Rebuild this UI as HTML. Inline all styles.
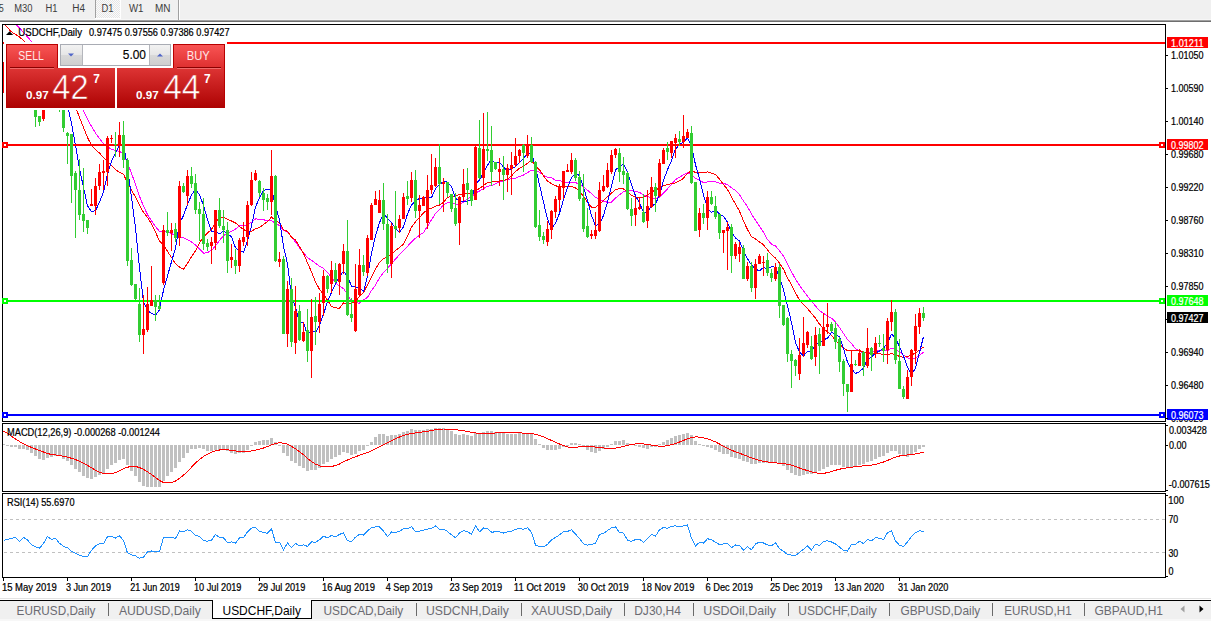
<!DOCTYPE html>
<html><head><meta charset="utf-8"><style>
*{margin:0;padding:0;box-sizing:border-box}
html,body{width:1211px;height:621px;overflow:hidden;background:#fff;font-family:"Liberation Sans",Arial,sans-serif}
.abs{position:absolute}
svg text{font-family:"Liberation Sans",Arial,sans-serif}
</style></head><body>

<svg class="abs" style="left:0;top:0" width="1211" height="621" viewBox="0 0 1211 621">
<defs><clipPath id="cmain"><rect x="3" y="25" width="1162" height="396"/></clipPath><clipPath id="cmacd"><rect x="3" y="424" width="1162" height="67"/></clipPath><clipPath id="crsi"><rect x="3" y="494" width="1162" height="83"/></clipPath><linearGradient id="ghead" x1="0" y1="0" x2="0" y2="1"><stop offset="0" stop-color="#f85454"/><stop offset="1" stop-color="#de2f2f"/></linearGradient><linearGradient id="gbox" gradientUnits="userSpaceOnUse" x1="0" y1="68" x2="0" y2="108"><stop offset="0" stop-color="#dd3434"/><stop offset="1" stop-color="#ad0202"/></linearGradient><linearGradient id="gbtn" x1="0" y1="0" x2="0" y2="1"><stop offset="0" stop-color="#f2f2f2"/><stop offset="0.5" stop-color="#e6e6e6"/><stop offset="0.5" stop-color="#d9d9d9"/><stop offset="1" stop-color="#cfcfcf"/></linearGradient></defs>
<rect x="0" y="0" width="1211" height="19" fill="#f0f0f0"/>
<rect x="0" y="19" width="1211" height="1" fill="#f6f6f6"/>
<rect x="0" y="20" width="1211" height="1" fill="#a0a0a0"/>
<rect x="0" y="21" width="1211" height="1" fill="#6e6e6e"/>
<g shape-rendering="crispEdges">
<rect x="95" y="0" width="1" height="18" fill="#a0a0a0"/>
<pattern id="chk" width="2" height="2" patternUnits="userSpaceOnUse"><rect width="2" height="2" fill="#fbfbfb"/><rect width="1" height="1" fill="#e6e6e6"/><rect x="1" y="1" width="1" height="1" fill="#e6e6e6"/></pattern>
<rect x="96" y="0" width="24" height="18" fill="url(#chk)"/>
<rect x="95" y="18" width="26" height="1" fill="#ffffff"/><rect x="120" y="0" width="1" height="18" fill="#ffffff"/>
<rect x="178" y="0" width="1" height="20" fill="#a0a0a0"/><rect x="179" y="0" width="1" height="20" fill="#ffffff"/>
</g>
<text x="-1.3" y="12" font-size="10" fill="#3c3c3c" text-anchor="start" textLength="5" lengthAdjust="spacingAndGlyphs">5</text>
<text x="14.3" y="12" font-size="10" fill="#3c3c3c" text-anchor="start" textLength="18.2" lengthAdjust="spacingAndGlyphs">M30</text>
<text x="45.5" y="12" font-size="10" fill="#3c3c3c" text-anchor="start" textLength="12" lengthAdjust="spacingAndGlyphs">H1</text>
<text x="72.2" y="12" font-size="10" fill="#3c3c3c" text-anchor="start" textLength="12.8" lengthAdjust="spacingAndGlyphs">H4</text>
<text x="101.5" y="12" font-size="10" fill="#3c3c3c" text-anchor="start" textLength="12" lengthAdjust="spacingAndGlyphs">D1</text>
<text x="129" y="12" font-size="10" fill="#3c3c3c" text-anchor="start" textLength="14.5" lengthAdjust="spacingAndGlyphs">W1</text>
<text x="155" y="12" font-size="10" fill="#3c3c3c" text-anchor="start" textLength="15.5" lengthAdjust="spacingAndGlyphs">MN</text>
<g shape-rendering="crispEdges">
<rect x="2.5" y="24.5" width="1163" height="397" fill="none" stroke="#000"/>
<rect x="2.5" y="423.5" width="1163" height="68" fill="none" stroke="#000"/>
<rect x="2.5" y="493.5" width="1163" height="84" fill="none" stroke="#000"/>
</g>
<g shape-rendering="crispEdges">
<polyline points="3.5,21.9 7.5,21.1 11.5,22.1 15.5,24.2 19.5,28.0 23.5,32.4 27.5,36.9 31.5,41.5 35.5,46.6 39.5,51.5 43.5,55.7 47.5,59.4 51.5,64.5 55.5,69.9 59.5,75.2 63.5,80.4 67.5,84.3 71.5,89.1 75.5,95.1 79.5,103.0 83.5,110.8 87.5,119.4 91.5,126.4 95.5,133.1 99.5,138.5 103.5,143.7 107.5,146.8 111.5,149.1 115.5,150.5 119.5,151.2 123.5,154.1 127.5,163.3 131.5,173.3 135.5,184.2 139.5,196.1 143.5,206.2 147.5,214.6 151.5,220.8 155.5,226.7 159.5,231.4 163.5,231.8 167.5,232.1 171.5,233.4 175.5,236.0 179.5,236.7 183.5,237.7 187.5,239.6 191.5,241.9 195.5,245.1 199.5,249.0 203.5,253.2 207.5,252.5 211.5,250.4 215.5,245.9 219.5,240.5 223.5,235.5 227.5,233.3 231.5,231.2 235.5,229.1 239.5,225.7 243.5,226.0 247.5,224.6 251.5,222.2 255.5,218.9 259.5,219.3 263.5,219.7 267.5,221.0 271.5,220.6 275.5,223.2 279.5,225.5 283.5,230.0 287.5,232.1 291.5,237.1 295.5,242.1 299.5,247.8 303.5,252.9 307.5,257.4 311.5,260.4 315.5,263.2 319.5,266.4 323.5,268.4 327.5,272.6 331.5,277.1 335.5,282.5 339.5,286.1 343.5,288.6 347.5,294.3 351.5,301.4 355.5,302.8 359.5,303.1 363.5,299.9 367.5,297.4 371.5,290.5 375.5,285.0 379.5,277.9 383.5,272.6 387.5,268.2 391.5,263.7 395.5,259.0 399.5,254.7 403.5,250.8 407.5,246.3 411.5,241.8 415.5,238.2 419.5,235.2 423.5,232.6 427.5,226.3 431.5,219.7 435.5,213.6 439.5,209.5 443.5,205.0 447.5,202.8 451.5,202.9 455.5,204.2 459.5,204.1 463.5,202.1 467.5,198.4 471.5,197.1 475.5,193.1 479.5,191.0 483.5,188.6 487.5,186.2 491.5,185.8 495.5,183.7 499.5,181.9 503.5,180.8 507.5,179.7 511.5,178.7 515.5,178.2 519.5,176.4 523.5,175.0 527.5,172.6 531.5,170.3 535.5,170.4 539.5,172.4 543.5,175.2 547.5,177.2 551.5,177.6 555.5,180.2 559.5,180.7 563.5,181.8 567.5,182.7 571.5,182.1 575.5,182.6 579.5,184.1 583.5,186.8 587.5,190.2 591.5,193.7 595.5,197.4 599.5,199.4 603.5,201.1 607.5,202.3 611.5,202.0 615.5,198.1 619.5,194.8 623.5,191.6 627.5,190.6 631.5,190.8 635.5,191.3 639.5,192.3 643.5,194.8 647.5,196.6 651.5,198.0 655.5,198.9 659.5,197.1 663.5,193.1 667.5,188.9 671.5,184.3 675.5,179.7 679.5,177.3 683.5,174.7 687.5,172.8 691.5,174.3 695.5,178.3 699.5,180.4 703.5,182.5 707.5,181.9 711.5,181.3 715.5,181.8 719.5,183.1 723.5,183.5 727.5,184.5 731.5,187.9 735.5,190.3 739.5,194.6 743.5,201.1 747.5,206.7 751.5,214.1 755.5,220.4 759.5,226.1 763.5,232.4 767.5,239.5 771.5,244.2 775.5,246.0 779.5,250.7 783.5,256.0 787.5,263.9 791.5,271.7 795.5,279.2 799.5,285.3 803.5,291.0 807.5,296.2 811.5,301.4 815.5,305.9 819.5,310.8 823.5,313.2 827.5,316.1 831.5,318.2 835.5,322.1 839.5,327.4 843.5,333.5 847.5,339.4 851.5,343.7 855.5,348.7 859.5,351.0 863.5,353.0 867.5,352.7 871.5,352.4 875.5,351.3 879.5,350.7 883.5,351.1 887.5,350.6 891.5,348.2 895.5,349.5 899.5,351.7 903.5,355.2 907.5,357.8 911.5,358.8 915.5,358.0 919.5,355.5 923.5,352.2" fill="none" stroke="#ff00ff" stroke-width="1" clip-path="url(#cmain)"/>
<polyline points="3.5,23.0 7.5,27.7 11.5,31.9 15.5,34.4 19.5,37.0 23.5,40.4 27.5,45.3 31.5,52.6 35.5,62.1 39.5,70.9 43.5,76.1 47.5,77.4 51.5,77.7 55.5,78.4 59.5,81.1 63.5,85.3 67.5,90.5 71.5,98.0 75.5,107.2 79.5,117.3 83.5,127.6 87.5,137.6 91.5,145.1 95.5,149.7 99.5,153.0 103.5,157.7 107.5,161.8 111.5,165.3 115.5,169.6 119.5,172.2 123.5,174.3 127.5,182.7 131.5,189.9 135.5,197.2 139.5,205.2 143.5,212.4 147.5,217.5 151.5,223.9 155.5,232.0 159.5,241.1 163.5,245.0 167.5,251.4 171.5,257.5 175.5,263.7 179.5,267.1 183.5,269.1 187.5,263.5 191.5,256.7 195.5,250.8 199.5,242.7 203.5,237.0 207.5,233.2 211.5,229.3 215.5,222.9 219.5,217.3 223.5,217.3 227.5,219.2 231.5,221.0 235.5,222.9 239.5,226.5 243.5,229.5 247.5,231.5 251.5,231.2 255.5,228.8 259.5,227.4 263.5,224.5 267.5,221.5 271.5,217.1 275.5,220.5 279.5,222.7 283.5,229.6 287.5,231.5 291.5,237.2 295.5,240.1 299.5,246.8 303.5,253.2 307.5,262.8 311.5,272.0 315.5,281.9 319.5,289.3 323.5,294.4 327.5,300.2 331.5,306.5 335.5,307.9 339.5,308.2 343.5,302.7 347.5,304.4 351.5,302.8 355.5,301.4 359.5,296.4 363.5,292.4 367.5,284.8 371.5,277.3 375.5,269.1 379.5,262.2 383.5,258.7 387.5,257.0 391.5,254.1 395.5,250.5 399.5,247.5 403.5,244.0 407.5,236.2 411.5,227.0 415.5,221.8 419.5,217.8 423.5,212.8 427.5,209.6 431.5,208.3 435.5,206.2 439.5,205.1 443.5,202.3 447.5,197.5 451.5,196.4 455.5,196.1 459.5,194.6 463.5,193.8 467.5,193.2 471.5,194.6 475.5,190.4 479.5,188.5 483.5,185.4 487.5,182.8 491.5,181.9 495.5,182.0 499.5,181.0 503.5,180.6 507.5,178.9 511.5,176.0 515.5,171.5 519.5,168.3 523.5,166.2 527.5,163.2 531.5,160.6 535.5,165.9 539.5,169.8 543.5,175.9 547.5,181.1 551.5,183.7 555.5,185.7 559.5,186.9 563.5,186.6 567.5,186.7 571.5,186.4 575.5,187.9 579.5,191.2 583.5,196.3 587.5,202.4 591.5,207.2 595.5,207.4 599.5,204.3 603.5,200.7 607.5,196.7 611.5,193.0 615.5,189.7 619.5,188.7 623.5,188.9 627.5,191.6 631.5,195.3 635.5,197.3 639.5,197.8 643.5,197.4 647.5,195.3 651.5,192.2 655.5,189.9 659.5,188.1 663.5,185.7 667.5,184.5 671.5,183.6 675.5,182.9 679.5,180.9 683.5,178.3 687.5,173.1 691.5,170.9 695.5,172.4 699.5,172.8 703.5,172.6 707.5,171.9 711.5,173.1 715.5,174.5 719.5,179.1 723.5,184.5 727.5,189.5 731.5,197.1 735.5,204.2 739.5,211.2 743.5,220.8 747.5,229.7 751.5,236.7 755.5,239.0 759.5,241.9 763.5,244.8 767.5,249.9 771.5,254.8 775.5,258.1 779.5,263.0 783.5,269.3 787.5,277.8 791.5,284.8 795.5,292.9 799.5,300.1 803.5,304.3 807.5,308.7 811.5,313.4 815.5,318.1 819.5,324.1 823.5,328.5 827.5,331.9 831.5,335.4 835.5,340.4 839.5,344.1 843.5,348.1 847.5,350.6 851.5,350.8 855.5,350.7 859.5,350.6 863.5,352.1 867.5,353.2 871.5,352.9 875.5,353.4 879.5,353.3 883.5,354.9 887.5,354.7 891.5,353.5 895.5,354.7 899.5,356.5 903.5,357.4 907.5,356.4 911.5,355.4 915.5,352.8 919.5,350.2 923.5,347.0" fill="none" stroke="#ff0000" stroke-width="1" clip-path="url(#cmain)"/>
<polyline points="3.5,66.0 7.5,65.8 11.5,62.5 15.5,58.9 19.5,60.2 23.5,60.5 27.5,64.6 31.5,70.3 35.5,83.2 39.5,94.9 43.5,101.8 47.5,101.7 51.5,100.3 55.5,93.1 59.5,88.1 63.5,93.5 67.5,105.3 71.5,123.4 75.5,145.3 79.5,168.9 83.5,187.4 87.5,205.9 91.5,211.6 95.5,210.7 99.5,202.1 103.5,192.2 107.5,174.2 111.5,161.0 115.5,152.9 119.5,145.5 123.5,143.4 127.5,167.9 131.5,197.2 135.5,228.0 139.5,268.0 143.5,301.7 147.5,310.4 151.5,313.4 155.5,315.0 159.5,309.9 163.5,290.1 167.5,275.9 171.5,261.8 175.5,248.0 179.5,223.3 183.5,215.6 187.5,204.2 191.5,195.0 195.5,189.4 199.5,194.9 203.5,205.3 207.5,219.6 211.5,231.3 215.5,231.3 219.5,233.8 223.5,231.1 227.5,233.7 231.5,236.7 235.5,247.9 239.5,250.7 243.5,252.1 247.5,241.1 251.5,225.7 255.5,207.1 259.5,197.7 263.5,190.2 267.5,189.6 271.5,188.8 275.5,206.4 279.5,219.6 283.5,246.5 287.5,263.8 291.5,297.0 295.5,306.9 299.5,323.1 303.5,322.7 307.5,335.1 311.5,330.1 315.5,332.5 319.5,325.2 323.5,314.1 327.5,301.8 331.5,292.4 335.5,284.4 339.5,276.3 343.5,271.2 347.5,276.4 351.5,286.0 355.5,287.3 359.5,287.6 363.5,291.7 367.5,276.3 371.5,253.6 375.5,235.7 379.5,222.7 383.5,213.2 387.5,218.4 391.5,222.6 395.5,228.5 399.5,232.4 403.5,226.9 407.5,213.9 411.5,204.8 415.5,201.2 419.5,198.3 423.5,198.3 427.5,196.6 431.5,197.6 435.5,188.8 439.5,184.6 443.5,181.6 447.5,182.1 451.5,186.8 455.5,198.3 459.5,201.0 463.5,201.5 467.5,200.9 471.5,199.4 475.5,184.0 479.5,180.1 483.5,173.0 487.5,165.3 491.5,159.5 495.5,163.8 499.5,162.1 503.5,167.2 507.5,170.6 511.5,169.2 515.5,166.5 519.5,162.7 523.5,158.3 527.5,153.7 531.5,153.0 535.5,167.3 539.5,184.8 543.5,202.2 547.5,219.1 551.5,228.8 555.5,223.2 559.5,213.3 563.5,199.5 567.5,187.5 571.5,177.4 575.5,173.3 579.5,175.6 583.5,187.1 587.5,200.6 591.5,215.4 595.5,225.7 599.5,223.9 603.5,215.5 607.5,202.2 611.5,186.2 615.5,170.0 619.5,166.5 623.5,164.1 627.5,172.0 631.5,184.3 635.5,196.0 639.5,202.9 643.5,212.4 647.5,211.8 651.5,206.1 655.5,203.8 659.5,194.9 663.5,180.5 667.5,169.7 671.5,160.5 675.5,148.9 679.5,144.7 683.5,142.0 687.5,137.9 691.5,146.2 695.5,164.7 699.5,178.8 703.5,195.2 707.5,208.2 711.5,212.5 715.5,209.9 719.5,213.9 723.5,216.3 727.5,222.3 731.5,232.5 735.5,238.0 739.5,240.9 743.5,250.8 747.5,258.6 751.5,265.1 755.5,269.1 759.5,270.9 763.5,267.3 767.5,268.8 771.5,266.8 775.5,267.2 779.5,277.2 783.5,289.8 787.5,306.0 791.5,322.6 795.5,342.4 799.5,352.2 803.5,355.9 807.5,351.4 811.5,351.0 815.5,344.8 819.5,343.0 823.5,339.8 827.5,338.2 831.5,332.6 835.5,334.0 839.5,337.1 843.5,348.6 847.5,362.1 851.5,368.9 855.5,373.4 859.5,371.7 863.5,367.9 867.5,359.2 871.5,357.3 875.5,352.9 879.5,351.1 883.5,348.2 887.5,342.8 891.5,334.2 895.5,337.7 899.5,346.8 903.5,356.1 907.5,367.3 911.5,374.8 915.5,367.9 919.5,352.6 923.5,336.7" fill="none" stroke="#0000ff" stroke-width="1" clip-path="url(#cmain)"/>
</g>
<g shape-rendering="crispEdges">
<rect x="3" y="42" width="1162" height="2" fill="#ff0000"/>
<rect x="1167" y="37" width="41" height="11" fill="#ff0000"/>
</g>
<text x="1171" y="46.6" font-size="10.3" fill="#fff" text-anchor="start" textLength="32.5" lengthAdjust="spacingAndGlyphs" stroke="#fff" stroke-width="0.22">1.01211</text>
<g shape-rendering="crispEdges">
<rect x="8" y="144" width="1151" height="2" fill="#ff0000"/>
<rect x="2" y="142" width="6" height="6" fill="#ff0000"/><rect x="4" y="144" width="2" height="2" fill="#fff"/>
<rect x="1159" y="142" width="6" height="6" fill="#ff0000"/><rect x="1161" y="144" width="2" height="2" fill="#fff"/>
<rect x="1167" y="139" width="41" height="11" fill="#ff0000"/>
</g>
<text x="1171" y="148.6" font-size="10.3" fill="#fff" text-anchor="start" textLength="32.5" lengthAdjust="spacingAndGlyphs" stroke="#fff" stroke-width="0.22">0.99802</text>
<g shape-rendering="crispEdges">
<rect x="8" y="300" width="1151" height="2" fill="#00ff00"/>
<rect x="2" y="298" width="6" height="6" fill="#00ff00"/><rect x="4" y="300" width="2" height="2" fill="#fff"/>
<rect x="1159" y="298" width="6" height="6" fill="#00ff00"/><rect x="1161" y="300" width="2" height="2" fill="#fff"/>
<rect x="1167" y="295" width="41" height="11" fill="#00ff00"/>
</g>
<text x="1171" y="304.6" font-size="10.3" fill="#fff" text-anchor="start" textLength="32.5" lengthAdjust="spacingAndGlyphs" stroke="#fff" stroke-width="0.22">0.97648</text>
<g shape-rendering="crispEdges">
<rect x="8" y="414" width="1151" height="2" fill="#0000ff"/>
<rect x="2" y="412" width="6" height="6" fill="#0000ff"/><rect x="4" y="414" width="2" height="2" fill="#fff"/>
<rect x="1159" y="412" width="6" height="6" fill="#0000ff"/><rect x="1161" y="414" width="2" height="2" fill="#fff"/>
<rect x="1167" y="409" width="41" height="11" fill="#0000ff"/>
</g>
<text x="1171" y="418.6" font-size="10.3" fill="#fff" text-anchor="start" textLength="32.5" lengthAdjust="spacingAndGlyphs" stroke="#fff" stroke-width="0.22">0.96073</text>
<g shape-rendering="crispEdges" clip-path="url(#cmain)">
<rect x="3" y="62" width="1" height="31" fill="#ff0000"/>
<rect x="2" y="65" width="3" height="25" fill="#ff0000"/>
<rect x="7" y="60" width="1" height="25" fill="#ff0000"/>
<rect x="6" y="62" width="3" height="18" fill="#ff0000"/>
<rect x="11" y="55" width="1" height="25" fill="#32cd32"/>
<rect x="10" y="60" width="3" height="15" fill="#32cd32"/>
<rect x="15" y="55" width="1" height="20" fill="#ff0000"/>
<rect x="14" y="58" width="3" height="12" fill="#ff0000"/>
<rect x="19" y="60" width="1" height="25" fill="#32cd32"/>
<rect x="18" y="65" width="3" height="15" fill="#32cd32"/>
<rect x="23" y="70" width="1" height="25" fill="#32cd32"/>
<rect x="22" y="75" width="3" height="15" fill="#32cd32"/>
<rect x="27" y="75" width="1" height="25" fill="#ff0000"/>
<rect x="26" y="80" width="3" height="15" fill="#ff0000"/>
<rect x="31" y="80" width="1" height="20" fill="#32cd32"/>
<rect x="30" y="85" width="3" height="10" fill="#32cd32"/>
<rect x="35" y="100" width="1" height="27" fill="#32cd32"/>
<rect x="34" y="100" width="3" height="17" fill="#32cd32"/>
<rect x="39" y="116" width="1" height="10" fill="#32cd32"/>
<rect x="38" y="116" width="3" height="6" fill="#32cd32"/>
<rect x="43" y="100" width="1" height="21" fill="#ff0000"/>
<rect x="42" y="100" width="3" height="19" fill="#ff0000"/>
<rect x="47" y="95" width="1" height="11" fill="#32cd32"/>
<rect x="46" y="98" width="3" height="6" fill="#32cd32"/>
<rect x="51" y="92" width="1" height="13" fill="#ff0000"/>
<rect x="50" y="95" width="3" height="7" fill="#ff0000"/>
<rect x="55" y="95" width="1" height="13" fill="#32cd32"/>
<rect x="54" y="98" width="3" height="8" fill="#32cd32"/>
<rect x="59" y="96" width="1" height="16" fill="#32cd32"/>
<rect x="58" y="100" width="3" height="8" fill="#32cd32"/>
<rect x="63" y="100" width="1" height="32" fill="#32cd32"/>
<rect x="62" y="104" width="3" height="24" fill="#32cd32"/>
<rect x="67" y="132" width="1" height="32" fill="#32cd32"/>
<rect x="66" y="133" width="3" height="3" fill="#32cd32"/>
<rect x="71" y="134" width="1" height="69" fill="#32cd32"/>
<rect x="70" y="134" width="3" height="42" fill="#32cd32"/>
<rect x="75" y="171" width="1" height="67" fill="#32cd32"/>
<rect x="74" y="173" width="3" height="17" fill="#32cd32"/>
<rect x="79" y="159" width="1" height="61" fill="#32cd32"/>
<rect x="78" y="190" width="3" height="25" fill="#32cd32"/>
<rect x="83" y="168" width="1" height="64" fill="#32cd32"/>
<rect x="82" y="214" width="3" height="7" fill="#32cd32"/>
<rect x="87" y="220" width="1" height="14" fill="#32cd32"/>
<rect x="86" y="220" width="3" height="8" fill="#32cd32"/>
<rect x="91" y="189" width="1" height="17" fill="#ff0000"/>
<rect x="90" y="204" width="3" height="2" fill="#ff0000"/>
<rect x="95" y="178" width="1" height="37" fill="#ff0000"/>
<rect x="94" y="186" width="3" height="20" fill="#ff0000"/>
<rect x="99" y="164" width="1" height="26" fill="#ff0000"/>
<rect x="98" y="172" width="3" height="14" fill="#ff0000"/>
<rect x="103" y="160" width="1" height="30" fill="#ff0000"/>
<rect x="102" y="171" width="3" height="2" fill="#ff0000"/>
<rect x="107" y="136" width="1" height="50" fill="#ff0000"/>
<rect x="106" y="138" width="3" height="34" fill="#ff0000"/>
<rect x="111" y="135" width="1" height="8" fill="#ff0000"/>
<rect x="110" y="138" width="3" height="1" fill="#ff0000"/>
<rect x="115" y="132" width="1" height="25" fill="#32cd32"/>
<rect x="114" y="144" width="3" height="1" fill="#32cd32"/>
<rect x="119" y="122" width="1" height="35" fill="#ff0000"/>
<rect x="118" y="135" width="3" height="10" fill="#ff0000"/>
<rect x="123" y="121" width="1" height="47" fill="#32cd32"/>
<rect x="122" y="135" width="3" height="25" fill="#32cd32"/>
<rect x="127" y="158" width="1" height="108" fill="#32cd32"/>
<rect x="126" y="160" width="3" height="101" fill="#32cd32"/>
<rect x="131" y="248" width="1" height="38" fill="#32cd32"/>
<rect x="130" y="260" width="3" height="25" fill="#32cd32"/>
<rect x="135" y="284" width="1" height="16" fill="#32cd32"/>
<rect x="134" y="284" width="3" height="15" fill="#32cd32"/>
<rect x="139" y="288" width="1" height="54" fill="#32cd32"/>
<rect x="138" y="304" width="3" height="31" fill="#32cd32"/>
<rect x="143" y="295" width="1" height="59" fill="#ff0000"/>
<rect x="142" y="329" width="3" height="6" fill="#ff0000"/>
<rect x="147" y="287" width="1" height="45" fill="#ff0000"/>
<rect x="146" y="304" width="3" height="26" fill="#ff0000"/>
<rect x="151" y="266" width="1" height="40" fill="#ff0000"/>
<rect x="150" y="300" width="3" height="6" fill="#ff0000"/>
<rect x="155" y="295" width="1" height="26" fill="#32cd32"/>
<rect x="154" y="300" width="3" height="7" fill="#32cd32"/>
<rect x="159" y="295" width="1" height="15" fill="#32cd32"/>
<rect x="158" y="306" width="3" height="3" fill="#32cd32"/>
<rect x="163" y="225" width="1" height="60" fill="#ff0000"/>
<rect x="162" y="230" width="3" height="53" fill="#ff0000"/>
<rect x="167" y="212" width="1" height="24" fill="#32cd32"/>
<rect x="166" y="230" width="3" height="3" fill="#32cd32"/>
<rect x="171" y="223" width="1" height="28" fill="#ff0000"/>
<rect x="170" y="230" width="3" height="3" fill="#ff0000"/>
<rect x="175" y="223" width="1" height="19" fill="#32cd32"/>
<rect x="174" y="229" width="3" height="9" fill="#32cd32"/>
<rect x="179" y="181" width="1" height="65" fill="#ff0000"/>
<rect x="178" y="186" width="3" height="52" fill="#ff0000"/>
<rect x="183" y="183" width="1" height="10" fill="#32cd32"/>
<rect x="182" y="186" width="3" height="6" fill="#32cd32"/>
<rect x="187" y="170" width="1" height="35" fill="#ff0000"/>
<rect x="186" y="176" width="3" height="20" fill="#ff0000"/>
<rect x="191" y="167" width="1" height="21" fill="#32cd32"/>
<rect x="190" y="176" width="3" height="8" fill="#32cd32"/>
<rect x="195" y="174" width="1" height="40" fill="#32cd32"/>
<rect x="194" y="183" width="3" height="27" fill="#32cd32"/>
<rect x="199" y="202" width="1" height="39" fill="#32cd32"/>
<rect x="198" y="209" width="3" height="5" fill="#32cd32"/>
<rect x="203" y="198" width="1" height="52" fill="#32cd32"/>
<rect x="202" y="214" width="3" height="30" fill="#32cd32"/>
<rect x="207" y="239" width="1" height="12" fill="#32cd32"/>
<rect x="206" y="243" width="3" height="4" fill="#32cd32"/>
<rect x="211" y="237" width="1" height="27" fill="#ff0000"/>
<rect x="210" y="242" width="3" height="4" fill="#ff0000"/>
<rect x="215" y="210" width="1" height="40" fill="#ff0000"/>
<rect x="214" y="210" width="3" height="33" fill="#ff0000"/>
<rect x="219" y="198" width="1" height="30" fill="#32cd32"/>
<rect x="218" y="210" width="3" height="16" fill="#32cd32"/>
<rect x="223" y="210" width="1" height="33" fill="#32cd32"/>
<rect x="222" y="226" width="3" height="4" fill="#32cd32"/>
<rect x="227" y="222" width="1" height="51" fill="#32cd32"/>
<rect x="226" y="230" width="3" height="31" fill="#32cd32"/>
<rect x="231" y="244" width="1" height="24" fill="#ff0000"/>
<rect x="230" y="257" width="3" height="3" fill="#ff0000"/>
<rect x="235" y="249" width="1" height="25" fill="#32cd32"/>
<rect x="234" y="260" width="3" height="6" fill="#32cd32"/>
<rect x="239" y="238" width="1" height="34" fill="#ff0000"/>
<rect x="238" y="240" width="3" height="26" fill="#ff0000"/>
<rect x="243" y="222" width="1" height="24" fill="#ff0000"/>
<rect x="242" y="237" width="3" height="5" fill="#ff0000"/>
<rect x="247" y="201" width="1" height="45" fill="#ff0000"/>
<rect x="246" y="205" width="3" height="32" fill="#ff0000"/>
<rect x="251" y="172" width="1" height="34" fill="#ff0000"/>
<rect x="250" y="180" width="3" height="25" fill="#ff0000"/>
<rect x="255" y="170" width="1" height="11" fill="#ff0000"/>
<rect x="254" y="173" width="3" height="7" fill="#ff0000"/>
<rect x="259" y="180" width="1" height="17" fill="#32cd32"/>
<rect x="258" y="181" width="3" height="12" fill="#32cd32"/>
<rect x="263" y="188" width="1" height="23" fill="#32cd32"/>
<rect x="262" y="193" width="3" height="7" fill="#32cd32"/>
<rect x="267" y="194" width="1" height="16" fill="#32cd32"/>
<rect x="266" y="198" width="3" height="4" fill="#32cd32"/>
<rect x="271" y="150" width="1" height="65" fill="#ff0000"/>
<rect x="270" y="176" width="3" height="26" fill="#ff0000"/>
<rect x="275" y="175" width="1" height="87" fill="#32cd32"/>
<rect x="274" y="176" width="3" height="85" fill="#32cd32"/>
<rect x="279" y="252" width="1" height="15" fill="#ff0000"/>
<rect x="278" y="259" width="3" height="3" fill="#ff0000"/>
<rect x="283" y="256" width="1" height="78" fill="#32cd32"/>
<rect x="282" y="259" width="3" height="75" fill="#32cd32"/>
<rect x="287" y="281" width="1" height="66" fill="#ff0000"/>
<rect x="286" y="289" width="3" height="45" fill="#ff0000"/>
<rect x="291" y="278" width="1" height="69" fill="#32cd32"/>
<rect x="290" y="289" width="3" height="53" fill="#32cd32"/>
<rect x="295" y="286" width="1" height="68" fill="#ff0000"/>
<rect x="294" y="311" width="3" height="32" fill="#ff0000"/>
<rect x="299" y="305" width="1" height="36" fill="#32cd32"/>
<rect x="298" y="311" width="3" height="29" fill="#32cd32"/>
<rect x="303" y="322" width="1" height="20" fill="#ff0000"/>
<rect x="302" y="332" width="3" height="9" fill="#ff0000"/>
<rect x="307" y="309" width="1" height="53" fill="#32cd32"/>
<rect x="306" y="330" width="3" height="21" fill="#32cd32"/>
<rect x="311" y="299" width="1" height="79" fill="#ff0000"/>
<rect x="310" y="317" width="3" height="34" fill="#ff0000"/>
<rect x="315" y="297" width="1" height="48" fill="#32cd32"/>
<rect x="314" y="316" width="3" height="6" fill="#32cd32"/>
<rect x="319" y="293" width="1" height="40" fill="#ff0000"/>
<rect x="318" y="304" width="3" height="18" fill="#ff0000"/>
<rect x="323" y="270" width="1" height="46" fill="#ff0000"/>
<rect x="322" y="276" width="3" height="27" fill="#ff0000"/>
<rect x="327" y="275" width="1" height="18" fill="#32cd32"/>
<rect x="326" y="276" width="3" height="13" fill="#32cd32"/>
<rect x="331" y="261" width="1" height="32" fill="#ff0000"/>
<rect x="330" y="270" width="3" height="14" fill="#ff0000"/>
<rect x="335" y="263" width="1" height="20" fill="#32cd32"/>
<rect x="334" y="270" width="3" height="12" fill="#32cd32"/>
<rect x="339" y="263" width="1" height="32" fill="#ff0000"/>
<rect x="338" y="264" width="3" height="18" fill="#ff0000"/>
<rect x="343" y="244" width="1" height="30" fill="#ff0000"/>
<rect x="342" y="251" width="3" height="13" fill="#ff0000"/>
<rect x="347" y="220" width="1" height="96" fill="#32cd32"/>
<rect x="346" y="251" width="3" height="64" fill="#32cd32"/>
<rect x="351" y="298" width="1" height="24" fill="#32cd32"/>
<rect x="350" y="314" width="3" height="4" fill="#32cd32"/>
<rect x="355" y="264" width="1" height="68" fill="#ff0000"/>
<rect x="354" y="289" width="3" height="42" fill="#ff0000"/>
<rect x="359" y="249" width="1" height="47" fill="#ff0000"/>
<rect x="358" y="265" width="3" height="30" fill="#ff0000"/>
<rect x="363" y="255" width="1" height="21" fill="#32cd32"/>
<rect x="362" y="265" width="3" height="7" fill="#32cd32"/>
<rect x="367" y="235" width="1" height="41" fill="#ff0000"/>
<rect x="366" y="238" width="3" height="35" fill="#ff0000"/>
<rect x="371" y="203" width="1" height="37" fill="#ff0000"/>
<rect x="370" y="205" width="3" height="35" fill="#ff0000"/>
<rect x="375" y="191" width="1" height="14" fill="#ff0000"/>
<rect x="374" y="199" width="3" height="6" fill="#ff0000"/>
<rect x="379" y="190" width="1" height="23" fill="#ff0000"/>
<rect x="378" y="200" width="3" height="13" fill="#ff0000"/>
<rect x="383" y="183" width="1" height="47" fill="#32cd32"/>
<rect x="382" y="200" width="3" height="24" fill="#32cd32"/>
<rect x="387" y="214" width="1" height="59" fill="#32cd32"/>
<rect x="386" y="224" width="3" height="40" fill="#32cd32"/>
<rect x="391" y="223" width="1" height="55" fill="#ff0000"/>
<rect x="390" y="226" width="3" height="38" fill="#ff0000"/>
<rect x="395" y="191" width="1" height="47" fill="#32cd32"/>
<rect x="394" y="226" width="3" height="3" fill="#32cd32"/>
<rect x="399" y="215" width="1" height="18" fill="#ff0000"/>
<rect x="398" y="219" width="3" height="9" fill="#ff0000"/>
<rect x="403" y="193" width="1" height="26" fill="#ff0000"/>
<rect x="402" y="197" width="3" height="22" fill="#ff0000"/>
<rect x="407" y="181" width="1" height="24" fill="#32cd32"/>
<rect x="406" y="196" width="3" height="3" fill="#32cd32"/>
<rect x="411" y="172" width="1" height="30" fill="#ff0000"/>
<rect x="410" y="180" width="3" height="18" fill="#ff0000"/>
<rect x="415" y="170" width="1" height="48" fill="#32cd32"/>
<rect x="414" y="180" width="3" height="31" fill="#32cd32"/>
<rect x="419" y="195" width="1" height="43" fill="#ff0000"/>
<rect x="418" y="205" width="3" height="6" fill="#ff0000"/>
<rect x="423" y="196" width="1" height="10" fill="#ff0000"/>
<rect x="422" y="197" width="3" height="9" fill="#ff0000"/>
<rect x="427" y="175" width="1" height="54" fill="#ff0000"/>
<rect x="426" y="190" width="3" height="33" fill="#ff0000"/>
<rect x="431" y="154" width="1" height="40" fill="#ff0000"/>
<rect x="430" y="185" width="3" height="5" fill="#ff0000"/>
<rect x="435" y="158" width="1" height="29" fill="#ff0000"/>
<rect x="434" y="167" width="3" height="19" fill="#ff0000"/>
<rect x="439" y="144" width="1" height="60" fill="#32cd32"/>
<rect x="438" y="167" width="3" height="17" fill="#32cd32"/>
<rect x="443" y="178" width="1" height="34" fill="#ff0000"/>
<rect x="442" y="182" width="3" height="2" fill="#ff0000"/>
<rect x="447" y="182" width="1" height="15" fill="#32cd32"/>
<rect x="446" y="182" width="3" height="11" fill="#32cd32"/>
<rect x="451" y="194" width="1" height="18" fill="#32cd32"/>
<rect x="450" y="194" width="3" height="15" fill="#32cd32"/>
<rect x="455" y="193" width="1" height="33" fill="#32cd32"/>
<rect x="454" y="208" width="3" height="16" fill="#32cd32"/>
<rect x="459" y="196" width="1" height="49" fill="#ff0000"/>
<rect x="458" y="197" width="3" height="26" fill="#ff0000"/>
<rect x="463" y="169" width="1" height="32" fill="#ff0000"/>
<rect x="462" y="184" width="3" height="13" fill="#ff0000"/>
<rect x="467" y="168" width="1" height="37" fill="#32cd32"/>
<rect x="466" y="183" width="3" height="7" fill="#32cd32"/>
<rect x="471" y="189" width="1" height="17" fill="#32cd32"/>
<rect x="470" y="190" width="3" height="11" fill="#32cd32"/>
<rect x="475" y="146" width="1" height="54" fill="#ff0000"/>
<rect x="474" y="147" width="3" height="53" fill="#ff0000"/>
<rect x="479" y="120" width="1" height="59" fill="#32cd32"/>
<rect x="478" y="148" width="3" height="30" fill="#32cd32"/>
<rect x="483" y="113" width="1" height="77" fill="#ff0000"/>
<rect x="482" y="149" width="3" height="29" fill="#ff0000"/>
<rect x="487" y="112" width="1" height="49" fill="#32cd32"/>
<rect x="486" y="149" width="3" height="2" fill="#32cd32"/>
<rect x="491" y="126" width="1" height="60" fill="#32cd32"/>
<rect x="490" y="150" width="3" height="22" fill="#32cd32"/>
<rect x="495" y="162" width="1" height="8" fill="#32cd32"/>
<rect x="494" y="162" width="3" height="7" fill="#32cd32"/>
<rect x="499" y="158" width="1" height="28" fill="#ff0000"/>
<rect x="498" y="169" width="3" height="3" fill="#ff0000"/>
<rect x="503" y="156" width="1" height="44" fill="#32cd32"/>
<rect x="502" y="169" width="3" height="6" fill="#32cd32"/>
<rect x="507" y="164" width="1" height="28" fill="#ff0000"/>
<rect x="506" y="168" width="3" height="7" fill="#ff0000"/>
<rect x="511" y="152" width="1" height="43" fill="#ff0000"/>
<rect x="510" y="165" width="3" height="4" fill="#ff0000"/>
<rect x="515" y="138" width="1" height="29" fill="#ff0000"/>
<rect x="514" y="156" width="3" height="9" fill="#ff0000"/>
<rect x="519" y="149" width="1" height="14" fill="#ff0000"/>
<rect x="518" y="150" width="3" height="6" fill="#ff0000"/>
<rect x="523" y="144" width="1" height="28" fill="#32cd32"/>
<rect x="522" y="145" width="3" height="8" fill="#32cd32"/>
<rect x="527" y="135" width="1" height="23" fill="#ff0000"/>
<rect x="526" y="145" width="3" height="11" fill="#ff0000"/>
<rect x="531" y="137" width="1" height="26" fill="#32cd32"/>
<rect x="530" y="145" width="3" height="17" fill="#32cd32"/>
<rect x="535" y="161" width="1" height="67" fill="#32cd32"/>
<rect x="534" y="162" width="3" height="65" fill="#32cd32"/>
<rect x="539" y="210" width="1" height="31" fill="#32cd32"/>
<rect x="538" y="225" width="3" height="12" fill="#32cd32"/>
<rect x="543" y="232" width="1" height="12" fill="#32cd32"/>
<rect x="542" y="236" width="3" height="4" fill="#32cd32"/>
<rect x="547" y="221" width="1" height="25" fill="#ff0000"/>
<rect x="546" y="229" width="3" height="13" fill="#ff0000"/>
<rect x="551" y="210" width="1" height="29" fill="#ff0000"/>
<rect x="550" y="211" width="3" height="19" fill="#ff0000"/>
<rect x="555" y="196" width="1" height="22" fill="#ff0000"/>
<rect x="554" y="199" width="3" height="13" fill="#ff0000"/>
<rect x="559" y="184" width="1" height="27" fill="#ff0000"/>
<rect x="558" y="187" width="3" height="13" fill="#ff0000"/>
<rect x="563" y="171" width="1" height="28" fill="#ff0000"/>
<rect x="562" y="171" width="3" height="17" fill="#ff0000"/>
<rect x="567" y="164" width="1" height="8" fill="#ff0000"/>
<rect x="566" y="170" width="3" height="2" fill="#ff0000"/>
<rect x="571" y="153" width="1" height="21" fill="#ff0000"/>
<rect x="570" y="160" width="3" height="12" fill="#ff0000"/>
<rect x="575" y="158" width="1" height="23" fill="#32cd32"/>
<rect x="574" y="160" width="3" height="18" fill="#32cd32"/>
<rect x="579" y="171" width="1" height="30" fill="#32cd32"/>
<rect x="578" y="177" width="3" height="22" fill="#32cd32"/>
<rect x="583" y="174" width="1" height="58" fill="#32cd32"/>
<rect x="582" y="198" width="3" height="31" fill="#32cd32"/>
<rect x="587" y="208" width="1" height="30" fill="#32cd32"/>
<rect x="586" y="226" width="3" height="11" fill="#32cd32"/>
<rect x="591" y="230" width="1" height="9" fill="#ff0000"/>
<rect x="590" y="234" width="3" height="2" fill="#ff0000"/>
<rect x="595" y="212" width="1" height="27" fill="#ff0000"/>
<rect x="594" y="230" width="3" height="6" fill="#ff0000"/>
<rect x="599" y="182" width="1" height="50" fill="#ff0000"/>
<rect x="598" y="190" width="3" height="41" fill="#ff0000"/>
<rect x="603" y="175" width="1" height="17" fill="#ff0000"/>
<rect x="602" y="186" width="3" height="5" fill="#ff0000"/>
<rect x="607" y="163" width="1" height="25" fill="#ff0000"/>
<rect x="606" y="170" width="3" height="17" fill="#ff0000"/>
<rect x="611" y="150" width="1" height="24" fill="#ff0000"/>
<rect x="610" y="155" width="3" height="17" fill="#ff0000"/>
<rect x="615" y="148" width="1" height="10" fill="#ff0000"/>
<rect x="614" y="149" width="3" height="6" fill="#ff0000"/>
<rect x="619" y="148" width="1" height="34" fill="#32cd32"/>
<rect x="618" y="153" width="3" height="19" fill="#32cd32"/>
<rect x="623" y="157" width="1" height="27" fill="#32cd32"/>
<rect x="622" y="171" width="3" height="4" fill="#32cd32"/>
<rect x="627" y="172" width="1" height="38" fill="#32cd32"/>
<rect x="626" y="173" width="3" height="36" fill="#32cd32"/>
<rect x="631" y="198" width="1" height="28" fill="#32cd32"/>
<rect x="630" y="209" width="3" height="7" fill="#32cd32"/>
<rect x="635" y="197" width="1" height="29" fill="#ff0000"/>
<rect x="634" y="208" width="3" height="7" fill="#ff0000"/>
<rect x="639" y="198" width="1" height="12" fill="#ff0000"/>
<rect x="638" y="207" width="3" height="2" fill="#ff0000"/>
<rect x="643" y="194" width="1" height="29" fill="#32cd32"/>
<rect x="642" y="212" width="3" height="10" fill="#32cd32"/>
<rect x="647" y="190" width="1" height="38" fill="#ff0000"/>
<rect x="646" y="206" width="3" height="15" fill="#ff0000"/>
<rect x="651" y="177" width="1" height="31" fill="#ff0000"/>
<rect x="650" y="187" width="3" height="20" fill="#ff0000"/>
<rect x="655" y="183" width="1" height="29" fill="#32cd32"/>
<rect x="654" y="187" width="3" height="9" fill="#32cd32"/>
<rect x="659" y="159" width="1" height="38" fill="#ff0000"/>
<rect x="658" y="163" width="3" height="33" fill="#ff0000"/>
<rect x="663" y="148" width="1" height="16" fill="#ff0000"/>
<rect x="662" y="150" width="3" height="14" fill="#ff0000"/>
<rect x="667" y="142" width="1" height="18" fill="#32cd32"/>
<rect x="666" y="148" width="3" height="4" fill="#32cd32"/>
<rect x="671" y="141" width="1" height="17" fill="#ff0000"/>
<rect x="670" y="141" width="3" height="12" fill="#ff0000"/>
<rect x="675" y="134" width="1" height="24" fill="#ff0000"/>
<rect x="674" y="138" width="3" height="5" fill="#ff0000"/>
<rect x="679" y="131" width="1" height="15" fill="#32cd32"/>
<rect x="678" y="139" width="3" height="3" fill="#32cd32"/>
<rect x="683" y="115" width="1" height="33" fill="#ff0000"/>
<rect x="682" y="136" width="3" height="6" fill="#ff0000"/>
<rect x="687" y="129" width="1" height="9" fill="#ff0000"/>
<rect x="686" y="132" width="3" height="6" fill="#ff0000"/>
<rect x="691" y="126" width="1" height="58" fill="#32cd32"/>
<rect x="690" y="133" width="3" height="50" fill="#32cd32"/>
<rect x="695" y="182" width="1" height="49" fill="#32cd32"/>
<rect x="694" y="182" width="3" height="49" fill="#32cd32"/>
<rect x="699" y="208" width="1" height="29" fill="#ff0000"/>
<rect x="698" y="213" width="3" height="17" fill="#ff0000"/>
<rect x="703" y="204" width="1" height="20" fill="#32cd32"/>
<rect x="702" y="213" width="3" height="5" fill="#32cd32"/>
<rect x="707" y="191" width="1" height="39" fill="#ff0000"/>
<rect x="706" y="197" width="3" height="21" fill="#ff0000"/>
<rect x="711" y="191" width="1" height="14" fill="#32cd32"/>
<rect x="710" y="197" width="3" height="7" fill="#32cd32"/>
<rect x="715" y="196" width="1" height="23" fill="#32cd32"/>
<rect x="714" y="206" width="3" height="11" fill="#32cd32"/>
<rect x="719" y="214" width="1" height="25" fill="#32cd32"/>
<rect x="718" y="214" width="3" height="19" fill="#32cd32"/>
<rect x="723" y="230" width="1" height="23" fill="#ff0000"/>
<rect x="722" y="230" width="3" height="3" fill="#ff0000"/>
<rect x="727" y="222" width="1" height="48" fill="#ff0000"/>
<rect x="726" y="227" width="3" height="4" fill="#ff0000"/>
<rect x="731" y="224" width="1" height="49" fill="#32cd32"/>
<rect x="730" y="227" width="3" height="29" fill="#32cd32"/>
<rect x="735" y="242" width="1" height="17" fill="#ff0000"/>
<rect x="734" y="244" width="3" height="12" fill="#ff0000"/>
<rect x="739" y="242" width="1" height="20" fill="#ff0000"/>
<rect x="738" y="247" width="3" height="7" fill="#ff0000"/>
<rect x="743" y="245" width="1" height="34" fill="#32cd32"/>
<rect x="742" y="248" width="3" height="31" fill="#32cd32"/>
<rect x="747" y="262" width="1" height="19" fill="#ff0000"/>
<rect x="746" y="266" width="3" height="13" fill="#ff0000"/>
<rect x="751" y="262" width="1" height="30" fill="#32cd32"/>
<rect x="750" y="266" width="3" height="22" fill="#32cd32"/>
<rect x="755" y="259" width="1" height="40" fill="#ff0000"/>
<rect x="754" y="264" width="3" height="24" fill="#ff0000"/>
<rect x="759" y="254" width="1" height="10" fill="#ff0000"/>
<rect x="758" y="256" width="3" height="8" fill="#ff0000"/>
<rect x="763" y="256" width="1" height="20" fill="#ff0000"/>
<rect x="762" y="262" width="3" height="1" fill="#ff0000"/>
<rect x="767" y="253" width="1" height="23" fill="#32cd32"/>
<rect x="766" y="260" width="3" height="13" fill="#32cd32"/>
<rect x="771" y="269" width="1" height="13" fill="#32cd32"/>
<rect x="770" y="273" width="3" height="5" fill="#32cd32"/>
<rect x="775" y="263" width="1" height="18" fill="#ff0000"/>
<rect x="774" y="267" width="3" height="12" fill="#ff0000"/>
<rect x="779" y="264" width="1" height="54" fill="#32cd32"/>
<rect x="778" y="267" width="3" height="39" fill="#32cd32"/>
<rect x="783" y="305" width="1" height="21" fill="#32cd32"/>
<rect x="782" y="305" width="3" height="20" fill="#32cd32"/>
<rect x="787" y="317" width="1" height="45" fill="#32cd32"/>
<rect x="786" y="318" width="3" height="36" fill="#32cd32"/>
<rect x="791" y="350" width="1" height="38" fill="#32cd32"/>
<rect x="790" y="354" width="3" height="7" fill="#32cd32"/>
<rect x="795" y="359" width="1" height="17" fill="#32cd32"/>
<rect x="794" y="360" width="3" height="6" fill="#32cd32"/>
<rect x="799" y="338" width="1" height="42" fill="#ff0000"/>
<rect x="798" y="355" width="3" height="19" fill="#ff0000"/>
<rect x="803" y="317" width="1" height="40" fill="#ff0000"/>
<rect x="802" y="343" width="3" height="11" fill="#ff0000"/>
<rect x="807" y="331" width="1" height="17" fill="#ff0000"/>
<rect x="806" y="332" width="3" height="13" fill="#ff0000"/>
<rect x="811" y="336" width="1" height="24" fill="#32cd32"/>
<rect x="810" y="346" width="3" height="13" fill="#32cd32"/>
<rect x="815" y="327" width="1" height="39" fill="#ff0000"/>
<rect x="814" y="335" width="3" height="22" fill="#ff0000"/>
<rect x="819" y="328" width="1" height="46" fill="#32cd32"/>
<rect x="818" y="334" width="3" height="12" fill="#32cd32"/>
<rect x="823" y="313" width="1" height="33" fill="#ff0000"/>
<rect x="822" y="327" width="3" height="19" fill="#ff0000"/>
<rect x="827" y="303" width="1" height="31" fill="#ff0000"/>
<rect x="826" y="324" width="3" height="3" fill="#ff0000"/>
<rect x="831" y="322" width="1" height="10" fill="#32cd32"/>
<rect x="830" y="324" width="3" height="7" fill="#32cd32"/>
<rect x="835" y="322" width="1" height="27" fill="#32cd32"/>
<rect x="834" y="328" width="3" height="14" fill="#32cd32"/>
<rect x="839" y="337" width="1" height="35" fill="#32cd32"/>
<rect x="838" y="339" width="3" height="23" fill="#32cd32"/>
<rect x="843" y="359" width="1" height="37" fill="#32cd32"/>
<rect x="842" y="361" width="3" height="23" fill="#32cd32"/>
<rect x="847" y="384" width="1" height="28" fill="#32cd32"/>
<rect x="846" y="384" width="3" height="8" fill="#32cd32"/>
<rect x="851" y="350" width="1" height="42" fill="#ff0000"/>
<rect x="850" y="364" width="3" height="28" fill="#ff0000"/>
<rect x="855" y="360" width="1" height="6" fill="#32cd32"/>
<rect x="854" y="364" width="3" height="1" fill="#32cd32"/>
<rect x="859" y="349" width="1" height="17" fill="#ff0000"/>
<rect x="858" y="353" width="3" height="13" fill="#ff0000"/>
<rect x="863" y="351" width="1" height="25" fill="#32cd32"/>
<rect x="862" y="352" width="3" height="14" fill="#32cd32"/>
<rect x="867" y="328" width="1" height="40" fill="#ff0000"/>
<rect x="866" y="348" width="3" height="18" fill="#ff0000"/>
<rect x="871" y="347" width="1" height="24" fill="#32cd32"/>
<rect x="870" y="348" width="3" height="7" fill="#32cd32"/>
<rect x="875" y="337" width="1" height="21" fill="#ff0000"/>
<rect x="874" y="343" width="3" height="11" fill="#ff0000"/>
<rect x="879" y="335" width="1" height="12" fill="#32cd32"/>
<rect x="878" y="343" width="3" height="1" fill="#32cd32"/>
<rect x="883" y="334" width="1" height="28" fill="#32cd32"/>
<rect x="882" y="348" width="3" height="3" fill="#32cd32"/>
<rect x="887" y="318" width="1" height="46" fill="#ff0000"/>
<rect x="886" y="321" width="3" height="29" fill="#ff0000"/>
<rect x="891" y="300" width="1" height="31" fill="#ff0000"/>
<rect x="890" y="312" width="3" height="10" fill="#ff0000"/>
<rect x="895" y="309" width="1" height="55" fill="#32cd32"/>
<rect x="894" y="312" width="3" height="48" fill="#32cd32"/>
<rect x="899" y="339" width="1" height="50" fill="#32cd32"/>
<rect x="898" y="361" width="3" height="28" fill="#32cd32"/>
<rect x="903" y="386" width="1" height="13" fill="#32cd32"/>
<rect x="902" y="389" width="3" height="8" fill="#32cd32"/>
<rect x="907" y="370" width="1" height="29" fill="#ff0000"/>
<rect x="906" y="377" width="3" height="22" fill="#ff0000"/>
<rect x="911" y="349" width="1" height="37" fill="#ff0000"/>
<rect x="910" y="350" width="3" height="27" fill="#ff0000"/>
<rect x="915" y="314" width="1" height="50" fill="#ff0000"/>
<rect x="914" y="326" width="3" height="25" fill="#ff0000"/>
<rect x="919" y="308" width="1" height="26" fill="#ff0000"/>
<rect x="918" y="313" width="3" height="14" fill="#ff0000"/>
<rect x="923" y="307" width="1" height="14" fill="#32cd32"/>
<rect x="922" y="313" width="3" height="5" fill="#32cd32"/>
</g>
<rect x="1167" y="312" width="41" height="11" fill="#000" shape-rendering="crispEdges"/>
<text x="1171" y="321.6" font-size="10.3" fill="#fff" text-anchor="start" textLength="32.5" lengthAdjust="spacingAndGlyphs" stroke="#fff" stroke-width="0.22">0.97427</text>
<g shape-rendering="crispEdges">
<rect x="1166" y="55" width="2" height="1" fill="#000"/>
<rect x="1166" y="88" width="2" height="1" fill="#000"/>
<rect x="1166" y="121" width="2" height="1" fill="#000"/>
<rect x="1166" y="154" width="2" height="1" fill="#000"/>
<rect x="1166" y="187" width="2" height="1" fill="#000"/>
<rect x="1166" y="220" width="2" height="1" fill="#000"/>
<rect x="1166" y="253" width="2" height="1" fill="#000"/>
<rect x="1166" y="286" width="2" height="1" fill="#000"/>
<rect x="1166" y="352" width="2" height="1" fill="#000"/>
<rect x="1166" y="385" width="2" height="1" fill="#000"/>
<rect x="1166" y="319" width="2" height="1" fill="#000"/>
<rect x="1166" y="418" width="2" height="1" fill="#000"/>
</g>
<text x="1171" y="59" font-size="10.3" fill="#000" text-anchor="start" textLength="32.5" lengthAdjust="spacingAndGlyphs" stroke="#000" stroke-width="0.22">1.01050</text>
<text x="1171" y="92" font-size="10.3" fill="#000" text-anchor="start" textLength="32.5" lengthAdjust="spacingAndGlyphs" stroke="#000" stroke-width="0.22">1.00590</text>
<text x="1171" y="125" font-size="10.3" fill="#000" text-anchor="start" textLength="32.5" lengthAdjust="spacingAndGlyphs" stroke="#000" stroke-width="0.22">1.00140</text>
<text x="1171" y="158" font-size="10.3" fill="#000" text-anchor="start" textLength="32.5" lengthAdjust="spacingAndGlyphs" stroke="#000" stroke-width="0.22">0.99680</text>
<text x="1171" y="191" font-size="10.3" fill="#000" text-anchor="start" textLength="32.5" lengthAdjust="spacingAndGlyphs" stroke="#000" stroke-width="0.22">0.99220</text>
<text x="1171" y="224" font-size="10.3" fill="#000" text-anchor="start" textLength="32.5" lengthAdjust="spacingAndGlyphs" stroke="#000" stroke-width="0.22">0.98760</text>
<text x="1171" y="257" font-size="10.3" fill="#000" text-anchor="start" textLength="32.5" lengthAdjust="spacingAndGlyphs" stroke="#000" stroke-width="0.22">0.98310</text>
<text x="1171" y="290" font-size="10.3" fill="#000" text-anchor="start" textLength="32.5" lengthAdjust="spacingAndGlyphs" stroke="#000" stroke-width="0.22">0.97850</text>
<text x="1171" y="356" font-size="10.3" fill="#000" text-anchor="start" textLength="32.5" lengthAdjust="spacingAndGlyphs" stroke="#000" stroke-width="0.22">0.96940</text>
<text x="1171" y="389" font-size="10.3" fill="#000" text-anchor="start" textLength="32.5" lengthAdjust="spacingAndGlyphs" stroke="#000" stroke-width="0.22">0.96480</text>
<clipPath id="c9602"><rect x="1167" y="420" width="44" height="2"/></clipPath>
<text x="1171" y="422" font-size="10.3" fill="#000" text-anchor="start" textLength="32.5" lengthAdjust="spacingAndGlyphs" stroke="#000" stroke-width="0.22" clip-path="url(#c9602)">0.96020</text>
<g shape-rendering="crispEdges" clip-path="url(#cmacd)">
<rect x="2" y="444" width="3" height="1" fill="#c0c0c0"/>
<rect x="6" y="445" width="3" height="1" fill="#c0c0c0"/>
<rect x="10" y="445" width="3" height="2" fill="#c0c0c0"/>
<rect x="14" y="445" width="3" height="2" fill="#c0c0c0"/>
<rect x="18" y="445" width="3" height="4" fill="#c0c0c0"/>
<rect x="22" y="445" width="3" height="4" fill="#c0c0c0"/>
<rect x="26" y="445" width="3" height="5" fill="#c0c0c0"/>
<rect x="30" y="445" width="3" height="8" fill="#c0c0c0"/>
<rect x="34" y="445" width="3" height="11" fill="#c0c0c0"/>
<rect x="38" y="445" width="3" height="14" fill="#c0c0c0"/>
<rect x="42" y="445" width="3" height="15" fill="#c0c0c0"/>
<rect x="46" y="445" width="3" height="13" fill="#c0c0c0"/>
<rect x="50" y="445" width="3" height="12" fill="#c0c0c0"/>
<rect x="54" y="445" width="3" height="11" fill="#c0c0c0"/>
<rect x="58" y="445" width="3" height="11" fill="#c0c0c0"/>
<rect x="62" y="445" width="3" height="14" fill="#c0c0c0"/>
<rect x="66" y="445" width="3" height="16" fill="#c0c0c0"/>
<rect x="70" y="445" width="3" height="20" fill="#c0c0c0"/>
<rect x="74" y="445" width="3" height="24" fill="#c0c0c0"/>
<rect x="78" y="445" width="3" height="27" fill="#c0c0c0"/>
<rect x="82" y="445" width="3" height="31" fill="#c0c0c0"/>
<rect x="86" y="445" width="3" height="33" fill="#c0c0c0"/>
<rect x="90" y="445" width="3" height="34" fill="#c0c0c0"/>
<rect x="94" y="445" width="3" height="32" fill="#c0c0c0"/>
<rect x="98" y="445" width="3" height="30" fill="#c0c0c0"/>
<rect x="102" y="445" width="3" height="28" fill="#c0c0c0"/>
<rect x="106" y="445" width="3" height="24" fill="#c0c0c0"/>
<rect x="110" y="445" width="3" height="20" fill="#c0c0c0"/>
<rect x="114" y="445" width="3" height="18" fill="#c0c0c0"/>
<rect x="118" y="445" width="3" height="15" fill="#c0c0c0"/>
<rect x="122" y="445" width="3" height="14" fill="#c0c0c0"/>
<rect x="126" y="445" width="3" height="20" fill="#c0c0c0"/>
<rect x="130" y="445" width="3" height="26" fill="#c0c0c0"/>
<rect x="134" y="445" width="3" height="31" fill="#c0c0c0"/>
<rect x="138" y="445" width="3" height="37" fill="#c0c0c0"/>
<rect x="142" y="445" width="3" height="41" fill="#c0c0c0"/>
<rect x="146" y="445" width="3" height="42" fill="#c0c0c0"/>
<rect x="150" y="445" width="3" height="42" fill="#c0c0c0"/>
<rect x="154" y="445" width="3" height="42" fill="#c0c0c0"/>
<rect x="158" y="445" width="3" height="42" fill="#c0c0c0"/>
<rect x="162" y="445" width="3" height="36" fill="#c0c0c0"/>
<rect x="166" y="445" width="3" height="31" fill="#c0c0c0"/>
<rect x="170" y="445" width="3" height="27" fill="#c0c0c0"/>
<rect x="174" y="445" width="3" height="23" fill="#c0c0c0"/>
<rect x="178" y="445" width="3" height="17" fill="#c0c0c0"/>
<rect x="182" y="445" width="3" height="13" fill="#c0c0c0"/>
<rect x="186" y="445" width="3" height="8" fill="#c0c0c0"/>
<rect x="190" y="445" width="3" height="4" fill="#c0c0c0"/>
<rect x="194" y="445" width="3" height="4" fill="#c0c0c0"/>
<rect x="198" y="445" width="3" height="3" fill="#c0c0c0"/>
<rect x="202" y="445" width="3" height="4" fill="#c0c0c0"/>
<rect x="206" y="445" width="3" height="6" fill="#c0c0c0"/>
<rect x="210" y="445" width="3" height="6" fill="#c0c0c0"/>
<rect x="214" y="445" width="3" height="5" fill="#c0c0c0"/>
<rect x="218" y="445" width="3" height="5" fill="#c0c0c0"/>
<rect x="222" y="445" width="3" height="4" fill="#c0c0c0"/>
<rect x="226" y="445" width="3" height="6" fill="#c0c0c0"/>
<rect x="230" y="445" width="3" height="8" fill="#c0c0c0"/>
<rect x="234" y="445" width="3" height="9" fill="#c0c0c0"/>
<rect x="238" y="445" width="3" height="8" fill="#c0c0c0"/>
<rect x="242" y="445" width="3" height="8" fill="#c0c0c0"/>
<rect x="246" y="445" width="3" height="5" fill="#c0c0c0"/>
<rect x="250" y="445" width="3" height="1" fill="#c0c0c0"/>
<rect x="254" y="442" width="3" height="3" fill="#c0c0c0"/>
<rect x="258" y="441" width="3" height="4" fill="#c0c0c0"/>
<rect x="262" y="440" width="3" height="5" fill="#c0c0c0"/>
<rect x="266" y="440" width="3" height="5" fill="#c0c0c0"/>
<rect x="270" y="438" width="3" height="7" fill="#c0c0c0"/>
<rect x="274" y="442" width="3" height="3" fill="#c0c0c0"/>
<rect x="278" y="445" width="3" height="1" fill="#c0c0c0"/>
<rect x="282" y="445" width="3" height="8" fill="#c0c0c0"/>
<rect x="286" y="445" width="3" height="11" fill="#c0c0c0"/>
<rect x="290" y="445" width="3" height="16" fill="#c0c0c0"/>
<rect x="294" y="445" width="3" height="18" fill="#c0c0c0"/>
<rect x="298" y="445" width="3" height="21" fill="#c0c0c0"/>
<rect x="302" y="445" width="3" height="23" fill="#c0c0c0"/>
<rect x="306" y="445" width="3" height="26" fill="#c0c0c0"/>
<rect x="310" y="445" width="3" height="25" fill="#c0c0c0"/>
<rect x="314" y="445" width="3" height="25" fill="#c0c0c0"/>
<rect x="318" y="445" width="3" height="23" fill="#c0c0c0"/>
<rect x="322" y="445" width="3" height="19" fill="#c0c0c0"/>
<rect x="326" y="445" width="3" height="17" fill="#c0c0c0"/>
<rect x="330" y="445" width="3" height="14" fill="#c0c0c0"/>
<rect x="334" y="445" width="3" height="12" fill="#c0c0c0"/>
<rect x="338" y="445" width="3" height="10" fill="#c0c0c0"/>
<rect x="342" y="445" width="3" height="7" fill="#c0c0c0"/>
<rect x="346" y="445" width="3" height="8" fill="#c0c0c0"/>
<rect x="350" y="445" width="3" height="10" fill="#c0c0c0"/>
<rect x="354" y="445" width="3" height="9" fill="#c0c0c0"/>
<rect x="358" y="445" width="3" height="6" fill="#c0c0c0"/>
<rect x="362" y="445" width="3" height="5" fill="#c0c0c0"/>
<rect x="366" y="445" width="3" height="1" fill="#c0c0c0"/>
<rect x="370" y="442" width="3" height="3" fill="#c0c0c0"/>
<rect x="374" y="437" width="3" height="8" fill="#c0c0c0"/>
<rect x="378" y="434" width="3" height="11" fill="#c0c0c0"/>
<rect x="382" y="434" width="3" height="11" fill="#c0c0c0"/>
<rect x="386" y="436" width="3" height="9" fill="#c0c0c0"/>
<rect x="390" y="435" width="3" height="10" fill="#c0c0c0"/>
<rect x="394" y="435" width="3" height="10" fill="#c0c0c0"/>
<rect x="398" y="434" width="3" height="11" fill="#c0c0c0"/>
<rect x="402" y="432" width="3" height="13" fill="#c0c0c0"/>
<rect x="406" y="431" width="3" height="14" fill="#c0c0c0"/>
<rect x="410" y="429" width="3" height="16" fill="#c0c0c0"/>
<rect x="414" y="430" width="3" height="15" fill="#c0c0c0"/>
<rect x="418" y="430" width="3" height="15" fill="#c0c0c0"/>
<rect x="422" y="430" width="3" height="15" fill="#c0c0c0"/>
<rect x="426" y="429" width="3" height="16" fill="#c0c0c0"/>
<rect x="430" y="429" width="3" height="16" fill="#c0c0c0"/>
<rect x="434" y="428" width="3" height="17" fill="#c0c0c0"/>
<rect x="438" y="428" width="3" height="17" fill="#c0c0c0"/>
<rect x="442" y="428" width="3" height="17" fill="#c0c0c0"/>
<rect x="446" y="429" width="3" height="16" fill="#c0c0c0"/>
<rect x="450" y="431" width="3" height="14" fill="#c0c0c0"/>
<rect x="454" y="434" width="3" height="11" fill="#c0c0c0"/>
<rect x="458" y="435" width="3" height="10" fill="#c0c0c0"/>
<rect x="462" y="434" width="3" height="11" fill="#c0c0c0"/>
<rect x="466" y="435" width="3" height="10" fill="#c0c0c0"/>
<rect x="470" y="436" width="3" height="9" fill="#c0c0c0"/>
<rect x="474" y="433" width="3" height="12" fill="#c0c0c0"/>
<rect x="478" y="433" width="3" height="12" fill="#c0c0c0"/>
<rect x="482" y="432" width="3" height="13" fill="#c0c0c0"/>
<rect x="486" y="431" width="3" height="14" fill="#c0c0c0"/>
<rect x="490" y="431" width="3" height="14" fill="#c0c0c0"/>
<rect x="494" y="432" width="3" height="13" fill="#c0c0c0"/>
<rect x="498" y="432" width="3" height="13" fill="#c0c0c0"/>
<rect x="502" y="433" width="3" height="12" fill="#c0c0c0"/>
<rect x="506" y="434" width="3" height="11" fill="#c0c0c0"/>
<rect x="510" y="434" width="3" height="11" fill="#c0c0c0"/>
<rect x="514" y="434" width="3" height="11" fill="#c0c0c0"/>
<rect x="518" y="433" width="3" height="12" fill="#c0c0c0"/>
<rect x="522" y="433" width="3" height="12" fill="#c0c0c0"/>
<rect x="526" y="433" width="3" height="12" fill="#c0c0c0"/>
<rect x="530" y="434" width="3" height="11" fill="#c0c0c0"/>
<rect x="534" y="439" width="3" height="6" fill="#c0c0c0"/>
<rect x="538" y="444" width="3" height="1" fill="#c0c0c0"/>
<rect x="542" y="445" width="3" height="3" fill="#c0c0c0"/>
<rect x="546" y="445" width="3" height="5" fill="#c0c0c0"/>
<rect x="550" y="445" width="3" height="5" fill="#c0c0c0"/>
<rect x="554" y="445" width="3" height="5" fill="#c0c0c0"/>
<rect x="558" y="445" width="3" height="4" fill="#c0c0c0"/>
<rect x="562" y="445" width="3" height="2" fill="#c0c0c0"/>
<rect x="566" y="445" width="3" height="1" fill="#c0c0c0"/>
<rect x="570" y="443" width="3" height="2" fill="#c0c0c0"/>
<rect x="574" y="443" width="3" height="2" fill="#c0c0c0"/>
<rect x="578" y="444" width="3" height="1" fill="#c0c0c0"/>
<rect x="582" y="445" width="3" height="2" fill="#c0c0c0"/>
<rect x="586" y="445" width="3" height="5" fill="#c0c0c0"/>
<rect x="590" y="445" width="3" height="7" fill="#c0c0c0"/>
<rect x="594" y="445" width="3" height="8" fill="#c0c0c0"/>
<rect x="598" y="445" width="3" height="6" fill="#c0c0c0"/>
<rect x="602" y="445" width="3" height="4" fill="#c0c0c0"/>
<rect x="606" y="445" width="3" height="2" fill="#c0c0c0"/>
<rect x="610" y="444" width="3" height="1" fill="#c0c0c0"/>
<rect x="614" y="441" width="3" height="4" fill="#c0c0c0"/>
<rect x="618" y="441" width="3" height="4" fill="#c0c0c0"/>
<rect x="622" y="440" width="3" height="5" fill="#c0c0c0"/>
<rect x="626" y="443" width="3" height="2" fill="#c0c0c0"/>
<rect x="630" y="444" width="3" height="1" fill="#c0c0c0"/>
<rect x="634" y="445" width="3" height="1" fill="#c0c0c0"/>
<rect x="638" y="445" width="3" height="2" fill="#c0c0c0"/>
<rect x="642" y="445" width="3" height="3" fill="#c0c0c0"/>
<rect x="646" y="445" width="3" height="4" fill="#c0c0c0"/>
<rect x="650" y="445" width="3" height="2" fill="#c0c0c0"/>
<rect x="654" y="445" width="3" height="2" fill="#c0c0c0"/>
<rect x="658" y="444" width="3" height="1" fill="#c0c0c0"/>
<rect x="662" y="442" width="3" height="3" fill="#c0c0c0"/>
<rect x="666" y="440" width="3" height="5" fill="#c0c0c0"/>
<rect x="670" y="438" width="3" height="7" fill="#c0c0c0"/>
<rect x="674" y="436" width="3" height="9" fill="#c0c0c0"/>
<rect x="678" y="435" width="3" height="10" fill="#c0c0c0"/>
<rect x="682" y="434" width="3" height="11" fill="#c0c0c0"/>
<rect x="686" y="433" width="3" height="12" fill="#c0c0c0"/>
<rect x="690" y="435" width="3" height="10" fill="#c0c0c0"/>
<rect x="694" y="441" width="3" height="4" fill="#c0c0c0"/>
<rect x="698" y="444" width="3" height="1" fill="#c0c0c0"/>
<rect x="702" y="445" width="3" height="1" fill="#c0c0c0"/>
<rect x="706" y="445" width="3" height="2" fill="#c0c0c0"/>
<rect x="710" y="445" width="3" height="3" fill="#c0c0c0"/>
<rect x="714" y="445" width="3" height="5" fill="#c0c0c0"/>
<rect x="718" y="445" width="3" height="7" fill="#c0c0c0"/>
<rect x="722" y="445" width="3" height="9" fill="#c0c0c0"/>
<rect x="726" y="445" width="3" height="9" fill="#c0c0c0"/>
<rect x="730" y="445" width="3" height="12" fill="#c0c0c0"/>
<rect x="734" y="445" width="3" height="13" fill="#c0c0c0"/>
<rect x="738" y="445" width="3" height="14" fill="#c0c0c0"/>
<rect x="742" y="445" width="3" height="16" fill="#c0c0c0"/>
<rect x="746" y="445" width="3" height="17" fill="#c0c0c0"/>
<rect x="750" y="445" width="3" height="19" fill="#c0c0c0"/>
<rect x="754" y="445" width="3" height="19" fill="#c0c0c0"/>
<rect x="758" y="445" width="3" height="18" fill="#c0c0c0"/>
<rect x="762" y="445" width="3" height="18" fill="#c0c0c0"/>
<rect x="766" y="445" width="3" height="18" fill="#c0c0c0"/>
<rect x="770" y="445" width="3" height="18" fill="#c0c0c0"/>
<rect x="774" y="445" width="3" height="17" fill="#c0c0c0"/>
<rect x="778" y="445" width="3" height="19" fill="#c0c0c0"/>
<rect x="782" y="445" width="3" height="21" fill="#c0c0c0"/>
<rect x="786" y="445" width="3" height="25" fill="#c0c0c0"/>
<rect x="790" y="445" width="3" height="28" fill="#c0c0c0"/>
<rect x="794" y="445" width="3" height="30" fill="#c0c0c0"/>
<rect x="798" y="445" width="3" height="31" fill="#c0c0c0"/>
<rect x="802" y="445" width="3" height="30" fill="#c0c0c0"/>
<rect x="806" y="445" width="3" height="29" fill="#c0c0c0"/>
<rect x="810" y="445" width="3" height="29" fill="#c0c0c0"/>
<rect x="814" y="445" width="3" height="27" fill="#c0c0c0"/>
<rect x="818" y="445" width="3" height="26" fill="#c0c0c0"/>
<rect x="822" y="445" width="3" height="24" fill="#c0c0c0"/>
<rect x="826" y="445" width="3" height="22" fill="#c0c0c0"/>
<rect x="830" y="445" width="3" height="20" fill="#c0c0c0"/>
<rect x="834" y="445" width="3" height="20" fill="#c0c0c0"/>
<rect x="838" y="445" width="3" height="20" fill="#c0c0c0"/>
<rect x="842" y="445" width="3" height="22" fill="#c0c0c0"/>
<rect x="846" y="445" width="3" height="23" fill="#c0c0c0"/>
<rect x="850" y="445" width="3" height="22" fill="#c0c0c0"/>
<rect x="854" y="445" width="3" height="22" fill="#c0c0c0"/>
<rect x="858" y="445" width="3" height="20" fill="#c0c0c0"/>
<rect x="862" y="445" width="3" height="19" fill="#c0c0c0"/>
<rect x="866" y="445" width="3" height="17" fill="#c0c0c0"/>
<rect x="870" y="445" width="3" height="16" fill="#c0c0c0"/>
<rect x="874" y="445" width="3" height="14" fill="#c0c0c0"/>
<rect x="878" y="445" width="3" height="12" fill="#c0c0c0"/>
<rect x="882" y="445" width="3" height="11" fill="#c0c0c0"/>
<rect x="886" y="445" width="3" height="8" fill="#c0c0c0"/>
<rect x="890" y="445" width="3" height="6" fill="#c0c0c0"/>
<rect x="894" y="445" width="3" height="6" fill="#c0c0c0"/>
<rect x="898" y="445" width="3" height="9" fill="#c0c0c0"/>
<rect x="902" y="445" width="3" height="11" fill="#c0c0c0"/>
<rect x="906" y="445" width="3" height="12" fill="#c0c0c0"/>
<rect x="910" y="445" width="3" height="10" fill="#c0c0c0"/>
<rect x="914" y="445" width="3" height="7" fill="#c0c0c0"/>
<rect x="918" y="445" width="3" height="4" fill="#c0c0c0"/>
<rect x="922" y="445" width="3" height="2" fill="#c0c0c0"/>
</g>
<g shape-rendering="crispEdges">
<polyline points="3.5,431.1 7.5,433.4 11.5,436.2 15.5,439.0 19.5,441.5 23.5,443.9 27.5,445.7 31.5,447.4 35.5,449.0 39.5,450.6 43.5,452.0 47.5,453.4 51.5,454.6 55.5,455.0 59.5,455.4 63.5,456.3 67.5,457.2 71.5,458.3 75.5,459.6 79.5,461.3 83.5,463.2 87.5,465.4 91.5,467.8 95.5,470.2 99.5,472.1 103.5,473.5 107.5,474.0 111.5,473.7 115.5,472.7 119.5,470.9 123.5,468.7 127.5,467.2 131.5,466.4 135.5,466.5 139.5,467.5 143.5,469.4 147.5,471.8 151.5,474.5 155.5,477.6 159.5,480.6 163.5,482.4 167.5,483.0 171.5,482.5 175.5,481.0 179.5,478.4 183.5,475.2 187.5,471.4 191.5,467.2 195.5,463.0 199.5,459.4 203.5,456.4 207.5,454.1 211.5,452.3 215.5,450.9 219.5,450.0 223.5,449.6 227.5,449.8 231.5,450.3 235.5,451.0 239.5,451.4 243.5,451.6 247.5,451.4 251.5,451.0 255.5,450.2 259.5,449.2 263.5,448.0 267.5,446.6 271.5,444.8 275.5,443.6 279.5,442.8 283.5,443.2 287.5,444.2 291.5,446.3 295.5,448.8 299.5,451.7 303.5,454.8 307.5,458.4 311.5,461.5 315.5,464.1 319.5,465.8 323.5,466.8 327.5,466.9 331.5,466.5 335.5,465.5 339.5,464.0 343.5,461.8 347.5,460.0 351.5,458.3 355.5,456.7 359.5,455.3 363.5,453.9 367.5,452.5 371.5,450.8 375.5,448.8 379.5,446.9 383.5,444.8 387.5,442.7 391.5,440.6 395.5,438.8 399.5,437.0 403.5,435.5 407.5,434.3 411.5,433.4 415.5,432.9 419.5,432.5 423.5,431.8 427.5,431.2 431.5,430.5 435.5,429.8 439.5,429.3 443.5,429.0 447.5,429.0 451.5,429.2 455.5,429.7 459.5,430.2 463.5,430.8 467.5,431.4 471.5,432.3 475.5,432.9 479.5,433.4 483.5,433.7 487.5,433.6 491.5,433.3 495.5,433.0 499.5,432.7 503.5,432.6 507.5,432.4 511.5,432.5 515.5,432.6 519.5,432.8 523.5,433.1 527.5,433.3 531.5,433.5 535.5,434.2 539.5,435.4 543.5,436.9 547.5,438.6 551.5,440.5 555.5,442.3 559.5,444.0 563.5,445.6 567.5,446.9 571.5,447.4 575.5,447.3 579.5,446.9 583.5,446.6 587.5,446.5 591.5,446.7 595.5,447.1 599.5,447.6 603.5,448.0 607.5,448.4 611.5,448.5 615.5,448.1 619.5,447.4 623.5,446.4 627.5,445.4 631.5,444.5 635.5,444.0 639.5,443.7 643.5,443.9 647.5,444.4 651.5,445.1 655.5,445.8 659.5,446.2 663.5,446.2 667.5,445.6 671.5,444.7 675.5,443.5 679.5,442.0 683.5,440.4 687.5,438.7 691.5,437.4 695.5,436.9 699.5,437.1 703.5,437.9 707.5,438.9 711.5,440.3 715.5,441.9 719.5,444.0 723.5,446.3 727.5,448.4 731.5,450.2 735.5,451.8 739.5,453.2 743.5,454.8 747.5,456.3 751.5,457.9 755.5,459.3 759.5,460.4 763.5,461.3 767.5,462.0 771.5,462.5 775.5,462.9 779.5,463.2 783.5,463.7 787.5,464.3 791.5,465.2 795.5,466.5 799.5,468.0 803.5,469.4 807.5,470.6 811.5,471.9 815.5,472.8 819.5,473.4 823.5,473.3 827.5,472.7 831.5,471.6 835.5,470.3 839.5,469.2 843.5,468.4 847.5,467.8 851.5,467.2 855.5,466.7 859.5,466.2 863.5,465.9 867.5,465.5 871.5,465.1 875.5,464.4 879.5,463.3 883.5,462.0 887.5,460.4 891.5,458.7 895.5,457.2 899.5,456.0 903.5,455.4 907.5,454.9 911.5,454.5 915.5,453.9 919.5,453.1 923.5,452.3" fill="none" stroke="#ff0000" stroke-width="1" clip-path="url(#cmacd)"/>
<rect x="1166" y="445" width="2" height="1" fill="#000"/><rect x="1166" y="425" width="2" height="1" fill="#000"/><rect x="1166" y="490" width="2" height="1" fill="#000"/><rect x="1166" y="495" width="2" height="1" fill="#000"/><rect x="1166" y="576" width="2" height="1" fill="#000"/>
</g>
<text x="7" y="436" font-size="10.3" fill="#000" text-anchor="start" textLength="153" lengthAdjust="spacingAndGlyphs" stroke="#000" stroke-width="0.22">MACD(12,26,9) -0.000268 -0.001244</text>
<text x="1169" y="434" font-size="10.3" fill="#000" text-anchor="start" textLength="37.8" lengthAdjust="spacingAndGlyphs" stroke="#000" stroke-width="0.22">0.003428</text>
<text x="1169" y="449" font-size="10.3" fill="#000" text-anchor="start" textLength="17.6" lengthAdjust="spacingAndGlyphs" stroke="#000" stroke-width="0.22">0.00</text>
<text x="1168.8" y="488" font-size="10.3" fill="#000" text-anchor="start" textLength="41" lengthAdjust="spacingAndGlyphs" stroke="#000" stroke-width="0.22">-0.007615</text>
<g shape-rendering="crispEdges">
<line x1="4" y1="519.5" x2="1165" y2="519.5" stroke="#c0c0c0" stroke-dasharray="3 3"/>
<line x1="4" y1="552.5" x2="1165" y2="552.5" stroke="#c0c0c0" stroke-dasharray="3 3"/>
<polyline points="3.5,540.4 7.5,539.4 11.5,538.4 15.5,537.4 19.5,541.4 23.5,537.4 27.5,539.9 31.5,544.8 35.5,546.8 39.5,548.3 43.5,543.3 47.5,536.4 51.5,539.4 55.5,538.4 59.5,543.3 63.5,546.3 67.5,547.8 71.5,551.3 75.5,553.2 79.5,555.2 83.5,556.5 87.5,556.5 91.5,550.3 95.5,545.8 99.5,543.9 103.5,543.7 107.5,536.6 111.5,536.6 115.5,538.0 119.5,535.8 123.5,540.7 127.5,552.9 131.5,554.9 135.5,555.9 139.5,558.3 143.5,557.0 147.5,551.8 151.5,551.0 155.5,551.7 159.5,551.9 163.5,537.4 167.5,537.8 171.5,537.3 175.5,538.6 179.5,531.0 183.5,531.9 187.5,529.8 191.5,531.2 195.5,535.6 199.5,536.2 203.5,540.7 207.5,541.2 211.5,540.2 215.5,534.6 219.5,537.2 223.5,537.9 227.5,542.6 231.5,541.9 235.5,543.2 239.5,538.0 243.5,537.5 247.5,532.0 251.5,528.2 255.5,527.3 259.5,531.3 263.5,532.6 267.5,533.2 271.5,528.8 275.5,542.6 279.5,542.2 283.5,549.9 287.5,543.0 291.5,547.6 295.5,543.4 299.5,545.9 303.5,544.8 307.5,546.4 311.5,541.8 315.5,542.3 319.5,539.8 323.5,536.2 327.5,537.8 331.5,535.4 335.5,536.9 339.5,534.4 343.5,532.8 347.5,540.9 351.5,541.3 355.5,537.2 359.5,534.2 363.5,535.1 367.5,530.9 371.5,527.5 375.5,526.9 379.5,527.0 383.5,531.1 387.5,536.7 391.5,532.0 395.5,532.4 399.5,531.3 403.5,528.6 407.5,528.8 411.5,526.6 415.5,531.9 419.5,531.2 423.5,530.1 427.5,529.1 431.5,528.4 435.5,525.9 439.5,529.5 443.5,529.2 447.5,531.5 451.5,534.8 455.5,537.8 459.5,532.9 463.5,530.7 467.5,531.8 471.5,534.2 475.5,525.9 479.5,531.8 483.5,528.0 487.5,528.3 491.5,532.2 495.5,531.8 499.5,531.8 503.5,533.0 507.5,531.8 511.5,531.2 515.5,529.4 519.5,528.3 523.5,529.3 527.5,527.7 531.5,532.4 535.5,545.1 539.5,546.6 543.5,547.0 547.5,544.3 551.5,539.9 555.5,537.3 559.5,534.9 563.5,531.7 567.5,531.5 571.5,529.7 575.5,534.1 579.5,538.5 583.5,543.8 587.5,545.1 591.5,544.5 595.5,543.3 599.5,534.3 603.5,533.6 607.5,530.5 611.5,527.8 615.5,526.9 619.5,532.6 623.5,533.1 627.5,540.2 631.5,541.4 635.5,539.5 639.5,539.3 643.5,542.3 647.5,538.4 651.5,534.2 655.5,536.2 659.5,529.7 663.5,527.5 667.5,528.2 671.5,526.3 675.5,525.8 679.5,526.9 683.5,525.8 687.5,525.0 691.5,538.2 695.5,546.1 699.5,542.3 703.5,543.1 707.5,538.7 711.5,539.9 715.5,542.1 719.5,544.6 723.5,543.9 727.5,543.2 731.5,547.8 735.5,544.9 739.5,545.4 743.5,550.2 747.5,546.6 751.5,549.7 755.5,544.0 759.5,542.1 763.5,543.0 767.5,545.0 771.5,545.7 775.5,542.8 779.5,548.9 783.5,551.2 787.5,554.5 791.5,555.1 795.5,555.6 799.5,552.4 803.5,549.2 807.5,546.1 811.5,550.0 815.5,544.1 819.5,545.8 823.5,541.4 827.5,540.8 831.5,542.0 835.5,544.0 839.5,547.1 843.5,550.2 847.5,551.2 851.5,544.2 855.5,544.3 859.5,541.3 863.5,543.6 867.5,539.4 871.5,540.7 875.5,537.9 879.5,538.1 883.5,539.7 887.5,532.7 891.5,530.9 895.5,540.9 899.5,545.3 903.5,546.4 907.5,541.9 911.5,536.6 915.5,532.7 919.5,530.7 923.5,531.7" fill="none" stroke="#1e90ff" stroke-width="1" clip-path="url(#crsi)"/>
</g>
<text x="7" y="506.2" font-size="10.3" fill="#000" text-anchor="start" textLength="67.5" lengthAdjust="spacingAndGlyphs" stroke="#000" stroke-width="0.22">RSI(14) 55.6970</text>
<text x="1168.3" y="504" font-size="10.3" fill="#000" text-anchor="start" textLength="15.5" lengthAdjust="spacingAndGlyphs" stroke="#000" stroke-width="0.22">100</text>
<text x="1168.4" y="523" font-size="10.3" fill="#000" text-anchor="start" textLength="9.8" lengthAdjust="spacingAndGlyphs" stroke="#000" stroke-width="0.22">70</text>
<text x="1168.4" y="556.5" font-size="10.3" fill="#000" text-anchor="start" textLength="9.8" lengthAdjust="spacingAndGlyphs" stroke="#000" stroke-width="0.22">30</text>
<text x="1168.4" y="574.5" font-size="10.3" fill="#000" text-anchor="start" textLength="5" lengthAdjust="spacingAndGlyphs" stroke="#000" stroke-width="0.22">0</text>
<g shape-rendering="crispEdges">
<rect x="3" y="578" width="1" height="3" fill="#000"/>
<rect x="67" y="578" width="1" height="3" fill="#000"/>
<rect x="131" y="578" width="1" height="3" fill="#000"/>
<rect x="195" y="578" width="1" height="3" fill="#000"/>
<rect x="259" y="578" width="1" height="3" fill="#000"/>
<rect x="323" y="578" width="1" height="3" fill="#000"/>
<rect x="387" y="578" width="1" height="3" fill="#000"/>
<rect x="451" y="578" width="1" height="3" fill="#000"/>
<rect x="515" y="578" width="1" height="3" fill="#000"/>
<rect x="579" y="578" width="1" height="3" fill="#000"/>
<rect x="643" y="578" width="1" height="3" fill="#000"/>
<rect x="707" y="578" width="1" height="3" fill="#000"/>
<rect x="771" y="578" width="1" height="3" fill="#000"/>
<rect x="835" y="578" width="1" height="3" fill="#000"/>
<rect x="899" y="578" width="1" height="3" fill="#000"/>
</g>
<text x="1.9" y="590.6" font-size="10.3" fill="#000" text-anchor="start" textLength="55.0" lengthAdjust="spacingAndGlyphs" stroke="#000" stroke-width="0.22">15 May 2019</text>
<text x="65.9" y="590.6" font-size="10.3" fill="#000" text-anchor="start" textLength="45.1" lengthAdjust="spacingAndGlyphs" stroke="#000" stroke-width="0.22">3 Jun 2019</text>
<text x="130.3" y="590.6" font-size="10.3" fill="#000" text-anchor="start" textLength="49.5" lengthAdjust="spacingAndGlyphs" stroke="#000" stroke-width="0.22">21 Jun 2019</text>
<text x="193.9" y="590.6" font-size="10.3" fill="#000" text-anchor="start" textLength="47.6" lengthAdjust="spacingAndGlyphs" stroke="#000" stroke-width="0.22">10 Jul 2019</text>
<text x="257.9" y="590.6" font-size="10.3" fill="#000" text-anchor="start" textLength="47.4" lengthAdjust="spacingAndGlyphs" stroke="#000" stroke-width="0.22">29 Jul 2019</text>
<text x="321.9" y="590.6" font-size="10.3" fill="#000" text-anchor="start" textLength="53.2" lengthAdjust="spacingAndGlyphs" stroke="#000" stroke-width="0.22">16 Aug 2019</text>
<text x="385.7" y="590.6" font-size="10.3" fill="#000" text-anchor="start" textLength="47.0" lengthAdjust="spacingAndGlyphs" stroke="#000" stroke-width="0.22">4 Sep 2019</text>
<text x="449.4" y="590.6" font-size="10.3" fill="#000" text-anchor="start" textLength="52.8" lengthAdjust="spacingAndGlyphs" stroke="#000" stroke-width="0.22">23 Sep 2019</text>
<text x="513.8" y="590.6" font-size="10.3" fill="#000" text-anchor="start" textLength="51.5" lengthAdjust="spacingAndGlyphs" stroke="#000" stroke-width="0.22">11 Oct 2019</text>
<text x="577.8" y="590.6" font-size="10.3" fill="#000" text-anchor="start" textLength="50.9" lengthAdjust="spacingAndGlyphs" stroke="#000" stroke-width="0.22">30 Oct 2019</text>
<text x="641.6" y="590.6" font-size="10.3" fill="#000" text-anchor="start" textLength="52.9" lengthAdjust="spacingAndGlyphs" stroke="#000" stroke-width="0.22">18 Nov 2019</text>
<text x="705.5" y="590.6" font-size="10.3" fill="#000" text-anchor="start" textLength="47.5" lengthAdjust="spacingAndGlyphs" stroke="#000" stroke-width="0.22">6 Dec 2019</text>
<text x="769.9" y="590.6" font-size="10.3" fill="#000" text-anchor="start" textLength="52.4" lengthAdjust="spacingAndGlyphs" stroke="#000" stroke-width="0.22">25 Dec 2019</text>
<text x="834.3" y="590.6" font-size="10.3" fill="#000" text-anchor="start" textLength="49.7" lengthAdjust="spacingAndGlyphs" stroke="#000" stroke-width="0.22">13 Jan 2020</text>
<text x="898.1" y="590.6" font-size="10.3" fill="#000" text-anchor="start" textLength="50.3" lengthAdjust="spacingAndGlyphs" stroke="#000" stroke-width="0.22">31 Jan 2020</text>
<path d="M6 35L9.6 31.3L13.2 35Z" fill="#000"/>
<text x="18.3" y="36" font-size="10" fill="#000" text-anchor="start" textLength="63.7" lengthAdjust="spacingAndGlyphs" stroke="#000" stroke-width="0.22">USDCHF,Daily</text>
<text x="89" y="36" font-size="10" fill="#000" text-anchor="start" textLength="140.5" lengthAdjust="spacingAndGlyphs" stroke="#000" stroke-width="0.22">0.97475 0.97556 0.97386 0.97427</text>
<g shape-rendering="crispEdges">
<rect x="4" y="42" width="223" height="68" fill="#fff"/>
<path d="M6 44H58V68H115V108H6Z" fill="url(#gbox)"/>
<rect x="7" y="45" width="50" height="23" fill="url(#ghead)"/>
<path d="M6.5 108V44.5H57.5V68" fill="none" stroke="#b80000"/>
<rect x="10" y="67" width="44" height="1" fill="#8a0000"/>
<rect x="10" y="68" width="44" height="1" fill="#f06a6a"/>
<path d="M173 44H225V108H117V68H173Z" fill="url(#gbox)"/>
<rect x="174" y="45" width="50" height="23" fill="url(#ghead)"/>
<path d="M173.5 68V44.5H224.5V108" fill="none" stroke="#b80000"/>
<rect x="177" y="67" width="44" height="1" fill="#8a0000"/>
<rect x="177" y="68" width="44" height="1" fill="#f06a6a"/>
<rect x="60.5" y="44.5" width="110" height="21" fill="#fff" stroke="#a9acb4"/>
<rect x="61" y="45" width="21" height="20" fill="url(#gbtn)"/>
<rect x="150" y="45" width="20" height="20" fill="url(#gbtn)"/>
<rect x="82" y="45" width="1" height="20" fill="#b4b6bc"/>
<rect x="149" y="45" width="1" height="20" fill="#b4b6bc"/>
</g>
<path d="M68 53.5h6l-3 3z" fill="#5066c8"/>
<path d="M157 56.5h6l-3 -3z" fill="#5066c8"/>
<text x="146" y="58.8" font-size="12" fill="#000" text-anchor="end" textLength="23.2" lengthAdjust="spacingAndGlyphs" stroke="#000" stroke-width="0.15">5.00</text>
<text x="18.3" y="59.8" font-size="12.3" fill="#ffe8e8" text-anchor="start" textLength="25.5" lengthAdjust="spacingAndGlyphs">SELL</text>
<text x="186.7" y="59.8" font-size="12.3" fill="#ffe8e8" text-anchor="start" textLength="23" lengthAdjust="spacingAndGlyphs">BUY</text>
<text x="26" y="98.5" font-size="10.5" fill="#fff" text-anchor="start" textLength="22.7" lengthAdjust="spacingAndGlyphs" font-weight="bold">0.97</text>
<text x="52.3" y="98.9" font-size="34.5" fill="#fff" text-anchor="start" textLength="36.3" lengthAdjust="spacingAndGlyphs" stroke="url(#gbox)" stroke-width="0.6">42</text>
<text x="93.3" y="83.2" font-size="12.5" fill="#fff" text-anchor="start" textLength="6.6" lengthAdjust="spacingAndGlyphs" font-weight="bold">7</text>
<text x="136" y="98.5" font-size="10.5" fill="#fff" text-anchor="start" textLength="22.7" lengthAdjust="spacingAndGlyphs" font-weight="bold">0.97</text>
<text x="163.2" y="98.9" font-size="34.5" fill="#fff" text-anchor="start" textLength="37.3" lengthAdjust="spacingAndGlyphs" stroke="url(#gbox)" stroke-width="0.6">44</text>
<text x="204.1" y="83.2" font-size="12.5" fill="#fff" text-anchor="start" textLength="6.6" lengthAdjust="spacingAndGlyphs" font-weight="bold">7</text>
<rect x="0" y="598" width="1211" height="1" fill="#e3e3e3"/>
<rect x="0" y="601" width="1211" height="18" fill="#f0f0f0"/>
<rect x="0" y="619" width="1211" height="2" fill="#f7f7f7"/>
<rect x="0" y="600" width="1211" height="1" fill="#000" shape-rendering="crispEdges"/>
<path d="M212.5 600.5V618.5H311.5V600.5" fill="#fff" stroke="#000" shape-rendering="crispEdges"/>
<rect x="213" y="600" width="98" height="1" fill="#fff"/>
<text x="16.6" y="615.3" font-size="12.2" fill="#6b6b72" text-anchor="start" textLength="78.9" lengthAdjust="spacingAndGlyphs">EURUSD,Daily</text>
<text x="118.9" y="615.3" font-size="12.2" fill="#6b6b72" text-anchor="start" textLength="81.9" lengthAdjust="spacingAndGlyphs">AUDUSD,Daily</text>
<text x="222.5" y="615.3" font-size="12.2" fill="#000" text-anchor="start" textLength="78.4" lengthAdjust="spacingAndGlyphs">USDCHF,Daily</text>
<text x="323.5" y="615.3" font-size="12.2" fill="#6b6b72" text-anchor="start" textLength="79.8" lengthAdjust="spacingAndGlyphs">USDCAD,Daily</text>
<text x="426" y="615.3" font-size="12.2" fill="#6b6b72" text-anchor="start" textLength="82.9" lengthAdjust="spacingAndGlyphs">USDCNH,Daily</text>
<text x="530.9" y="615.3" font-size="12.2" fill="#6b6b72" text-anchor="start" textLength="81.3" lengthAdjust="spacingAndGlyphs">XAUUSD,Daily</text>
<text x="634.2" y="615.3" font-size="12.2" fill="#6b6b72" text-anchor="start" textLength="46.8" lengthAdjust="spacingAndGlyphs">DJ30,H4</text>
<text x="703.3" y="615.3" font-size="12.2" fill="#6b6b72" text-anchor="start" textLength="72.7" lengthAdjust="spacingAndGlyphs">USDOil,Daily</text>
<text x="798.3" y="615.3" font-size="12.2" fill="#6b6b72" text-anchor="start" textLength="78.5" lengthAdjust="spacingAndGlyphs">USDCHF,Daily</text>
<text x="900.4" y="615.3" font-size="12.2" fill="#6b6b72" text-anchor="start" textLength="79.9" lengthAdjust="spacingAndGlyphs">GBPUSD,Daily</text>
<text x="1004.3" y="615.3" font-size="12.2" fill="#6b6b72" text-anchor="start" textLength="67.4" lengthAdjust="spacingAndGlyphs">EURUSD,H1</text>
<text x="1094.5" y="615.3" font-size="12.2" fill="#6b6b72" text-anchor="start" textLength="68.5" lengthAdjust="spacingAndGlyphs">GBPAUD,H1</text>
<g shape-rendering="crispEdges">
<rect x="108" y="603" width="1" height="13" fill="#6a6a6a"/>
<rect x="416" y="603" width="1" height="13" fill="#6a6a6a"/>
<rect x="521" y="603" width="1" height="13" fill="#6a6a6a"/>
<rect x="624" y="603" width="1" height="13" fill="#6a6a6a"/>
<rect x="693" y="603" width="1" height="13" fill="#6a6a6a"/>
<rect x="788" y="603" width="1" height="13" fill="#6a6a6a"/>
<rect x="889" y="603" width="1" height="13" fill="#6a6a6a"/>
<rect x="992" y="603" width="1" height="13" fill="#6a6a6a"/>
<rect x="1084" y="603" width="1" height="13" fill="#6a6a6a"/>
</g>
<path d="M1180.5 609L1184.5 605.5V612.5Z" fill="#a0a0a0"/>
<path d="M1203.5 609L1199.5 605.5V612.5Z" fill="#000"/>
</svg>
</body></html>
